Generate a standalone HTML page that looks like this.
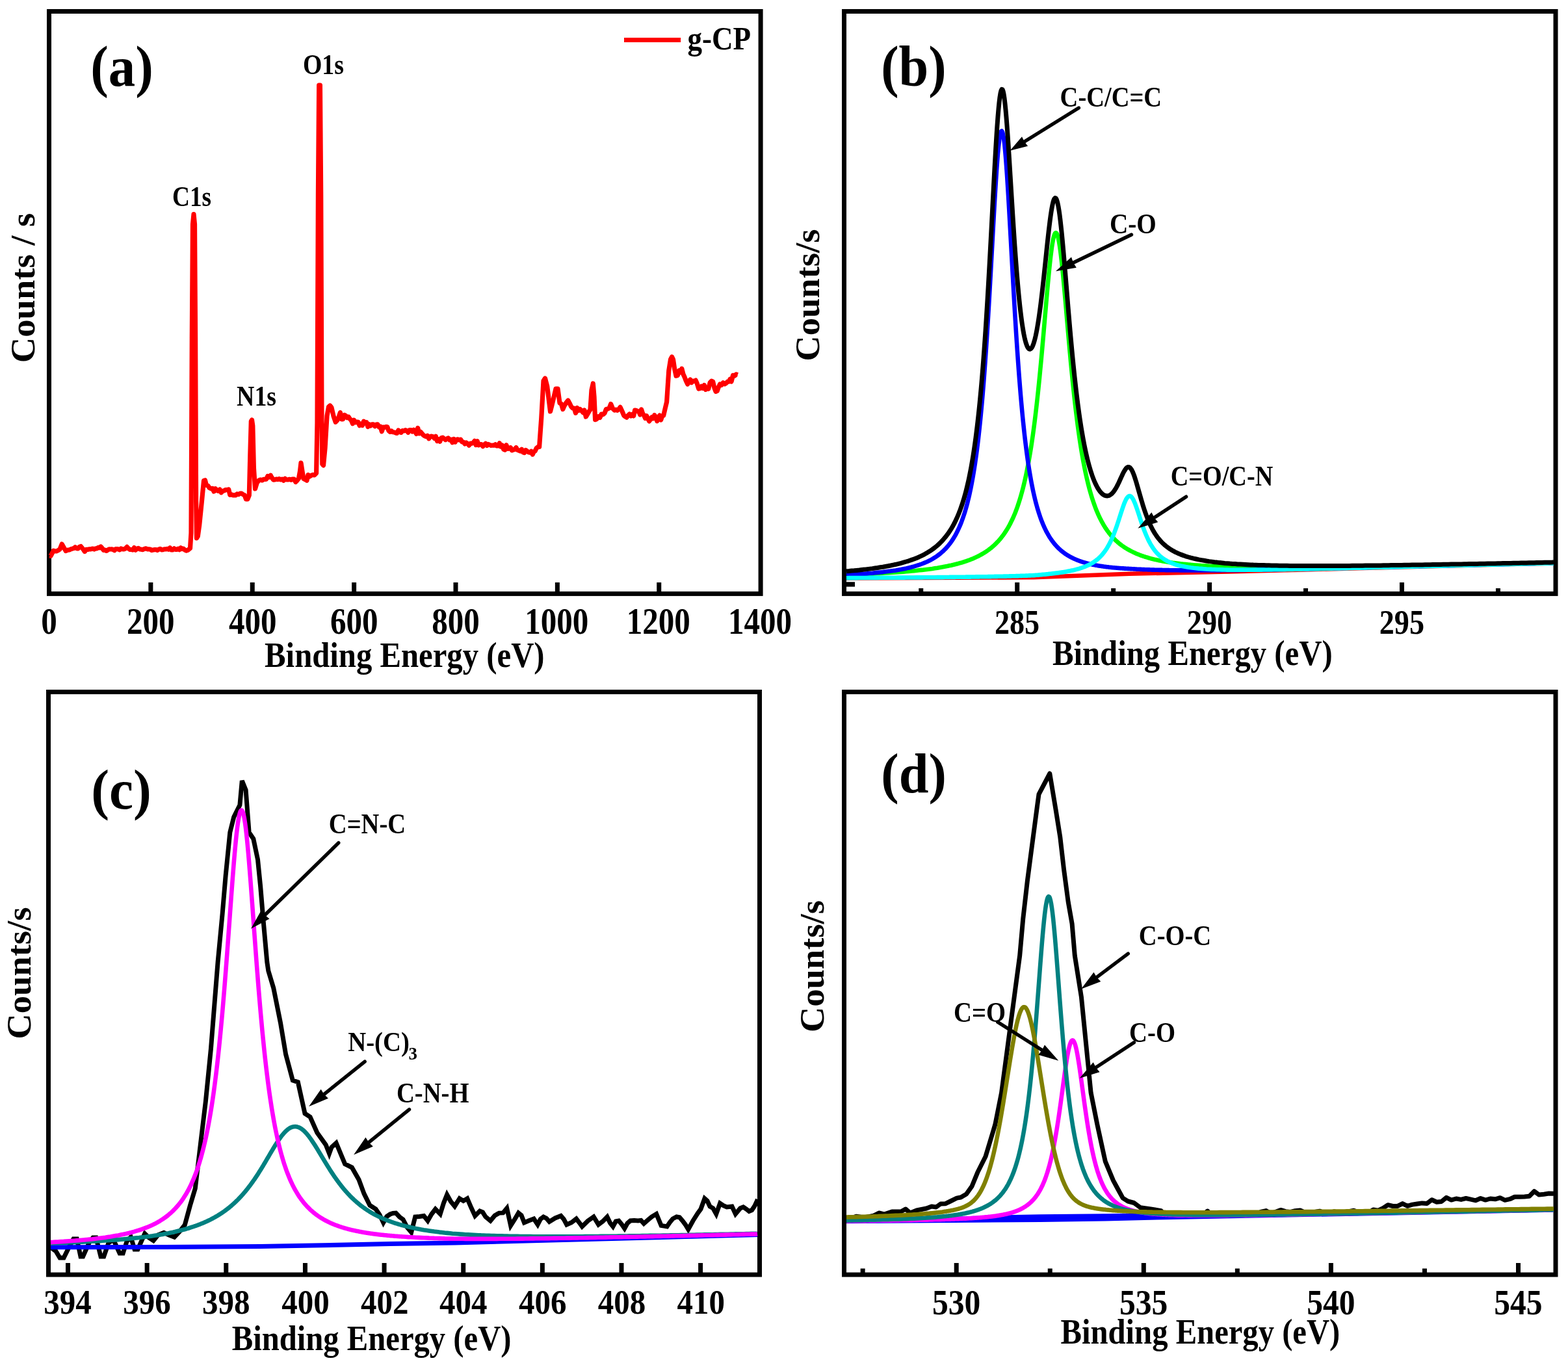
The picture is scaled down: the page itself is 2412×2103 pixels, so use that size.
<!DOCTYPE html>
<html><head><meta charset="utf-8"><title>XPS spectra</title>
<style>
html,body{margin:0;padding:0;background:#fff;}
body{width:2412px;height:2103px;overflow:hidden;}
svg{display:block;}
text{font-family:"Liberation Serif","Times New Roman",serif;font-weight:bold;font-kerning:none;font-variant-ligatures:none;fill:#000;}
</style></head><body>
<svg width="2412" height="2103" viewBox="0 0 2412 2103">
<rect width="2412" height="2103" fill="#fff"/>
<rect x="75.50" y="17.50" width="1094.60" height="895.90" fill="none" stroke="#000" stroke-width="7.0"/>
<rect x="228.37" y="896.00" width="7.00" height="16.00" fill="#000"/>
<rect x="384.74" y="896.00" width="7.00" height="16.00" fill="#000"/>
<rect x="541.11" y="896.00" width="7.00" height="16.00" fill="#000"/>
<rect x="697.49" y="896.00" width="7.00" height="16.00" fill="#000"/>
<rect x="853.86" y="896.00" width="7.00" height="16.00" fill="#000"/>
<rect x="1010.23" y="896.00" width="7.00" height="16.00" fill="#000"/>
<path d="M76.0 855.0 L78.0 855.3 L80.0 851.5 L82.2 847.2 L84.5 848.0 L86.8 847.9 L89.0 847.0 L92.0 845.0 L95.2 837.0 L98.0 842.0 L101.3 847.6 L104.2 846.2 L107.0 845.9 L109.2 844.7 L111.4 844.1 L113.6 843.6 L115.7 841.7 L117.9 843.6 L120.0 844.0 L122.2 841.4 L124.3 840.5 L128.0 845.0 L130.3 848.5 L132.7 845.3 L134.8 845.5 L136.8 844.8 L138.8 844.9 L140.9 844.4 L142.9 844.0 L145.0 845.0 L147.0 843.8 L149.0 843.9 L151.0 842.4 L153.0 842.8 L155.0 841.0 L157.2 843.5 L159.5 846.4 L161.6 846.1 L163.7 847.4 L165.8 846.1 L167.9 844.8 L170.0 845.0 L172.0 844.8 L174.0 845.5 L176.0 846.8 L178.0 844.6 L180.0 844.6 L182.0 844.8 L184.0 845.9 L186.0 844.0 L188.0 844.7 L190.0 845.0 L192.7 844.1 L195.3 841.4 L197.7 844.0 L200.0 845.5 L202.1 845.5 L204.3 846.0 L206.4 842.5 L208.6 846.2 L210.7 844.2 L212.9 843.4 L215.0 845.0 L217.3 845.2 L219.7 845.6 L222.0 844.4 L224.4 843.8 L226.7 844.8 L228.9 844.9 L231.1 845.0 L233.3 846.6 L235.6 846.0 L237.8 845.6 L240.0 845.5 L242.1 846.5 L244.3 845.2 L246.4 844.4 L248.6 845.8 L250.7 845.7 L252.9 844.9 L255.0 845.0 L257.1 844.3 L259.3 845.4 L261.4 842.7 L263.6 846.0 L265.7 845.8 L267.9 843.8 L270.0 845.5 L272.0 845.4 L274.0 844.2 L276.0 845.7 L278.0 842.7 L280.0 844.6 L282.2 844.1 L284.4 846.2 L286.7 847.1 L288.9 846.4 L292.5 843.5 L294.0 820.0 L295.3 520.0 L296.5 345.0 L298.0 329.5 L299.5 345.0 L300.6 520.0 L301.6 770.0 L302.5 828.0 L304.3 825.0 L306.8 807.0 L310.4 771.4 L313.5 739.5 L315.5 738.8 L317.5 746.4 L319.9 747.3 L322.2 750.6 L324.6 751.8 L326.9 751.4 L329.1 756.1 L331.4 751.7 L333.6 754.5 L335.8 755.4 L338.1 753.1 L340.3 757.7 L342.5 755.4 L344.9 754.8 L347.2 753.5 L349.6 753.6 L351.7 752.9 L353.8 761.3 L355.9 760.7 L358.1 761.8 L360.4 761.6 L362.6 762.0 L364.8 759.8 L367.1 760.6 L369.3 759.1 L371.6 759.1 L373.8 760.7 L376.2 761.7 L378.5 767.9 L380.9 767.9 L383.3 762.0 L384.8 700.0 L386.3 648.0 L387.5 646.0 L388.8 655.0 L390.4 720.0 L392.5 752.0 L395.2 742.9 L397.9 739.3 L400.5 738.0 L403.2 739.0 L405.4 737.4 L407.5 737.4 L409.7 737.1 L411.8 732.5 L414.0 734.0 L416.2 731.2 L418.4 735.2 L420.6 738.2 L422.8 737.9 L425.0 737.0 L427.2 737.6 L429.5 736.7 L431.7 738.0 L434.0 737.1 L436.2 739.3 L438.5 736.3 L440.7 738.0 L443.0 738.0 L445.4 737.3 L447.7 738.3 L450.0 737.0 L452.4 737.2 L454.8 741.5 L457.1 739.2 L459.5 736.0 L461.5 725.0 L463.0 712.0 L465.0 725.0 L467.0 736.6 L470.0 738.0 L472.0 739.3 L474.0 730.6 L476.0 733.0 L478.5 731.6 L481.1 730.4 L483.6 731.0 L486.6 728.0 L488.0 650.0 L489.4 300.0 L490.7 131.0 L492.4 131.0 L493.7 300.0 L495.0 650.0 L495.8 714.0 L497.5 716.0 L500.0 690.0 L503.0 640.0 L505.5 626.0 L507.7 624.0 L510.0 627.0 L513.0 640.0 L516.2 649.4 L518.8 646.6 L521.3 640.9 L523.4 634.7 L525.5 644.8 L527.6 644.8 L529.8 638.4 L531.9 639.6 L534.0 642.6 L536.1 641.2 L538.2 644.4 L540.4 646.9 L542.5 651.7 L544.6 646.3 L546.8 649.8 L548.9 649.0 L551.0 649.4 L553.1 654.7 L555.2 652.3 L557.4 654.4 L559.5 648.1 L561.6 651.0 L563.8 649.7 L565.9 656.5 L568.0 652.8 L570.1 655.0 L572.3 652.8 L574.5 652.8 L576.6 655.8 L578.8 653.0 L580.9 652.8 L583.1 657.1 L585.2 656.2 L587.3 663.7 L589.5 657.2 L591.6 657.3 L593.7 656.5 L595.8 656.9 L598.0 662.7 L600.1 664.4 L602.2 663.0 L604.3 664.7 L606.5 665.0 L608.6 665.9 L610.7 666.4 L612.8 662.0 L615.0 664.4 L617.1 665.4 L619.2 662.6 L621.4 663.0 L623.5 661.7 L625.6 662.5 L627.8 665.3 L629.9 661.5 L632.0 661.7 L634.2 663.9 L636.3 661.3 L638.4 663.9 L640.5 667.5 L642.7 658.4 L644.8 666.9 L646.9 664.3 L649.0 666.8 L651.2 669.4 L653.3 670.9 L655.4 671.6 L657.5 670.2 L659.7 674.8 L661.8 671.5 L663.9 671.1 L666.1 671.7 L668.2 674.4 L670.3 671.3 L672.5 678.5 L674.6 675.8 L676.7 679.1 L678.9 673.8 L681.0 673.2 L683.1 674.8 L685.3 676.6 L687.4 675.0 L689.5 673.9 L691.6 676.8 L693.8 676.2 L695.9 680.7 L698.0 675.4 L700.1 680.1 L702.3 676.3 L704.4 675.9 L706.5 677.0 L708.6 676.2 L710.8 679.9 L712.9 680.0 L715.0 682.9 L717.2 681.0 L719.3 682.4 L721.4 685.2 L723.6 682.1 L725.7 682.2 L727.8 681.4 L730.0 678.4 L732.1 684.5 L734.2 678.6 L736.4 684.8 L738.5 683.5 L740.6 683.7 L742.8 686.7 L744.9 684.0 L747.0 682.3 L749.1 685.4 L751.2 683.4 L753.4 684.5 L755.5 685.3 L757.6 685.0 L759.8 685.1 L761.9 683.8 L764.0 686.0 L766.1 686.0 L768.3 681.8 L770.4 687.1 L772.5 685.1 L774.7 691.2 L776.8 692.1 L778.9 684.8 L781.1 690.3 L783.2 690.2 L785.3 688.5 L787.5 692.8 L789.6 692.0 L791.7 691.3 L793.9 688.5 L796.0 692.4 L798.1 693.0 L800.2 694.0 L802.4 691.2 L804.5 695.9 L806.6 696.5 L808.7 692.5 L810.9 694.0 L813.0 695.7 L815.1 696.2 L817.1 694.3 L819.2 699.1 L821.2 694.9 L823.2 693.8 L825.3 689.3 L827.5 687.6 L829.6 687.4 L832.8 642.4 L836.0 586.0 L838.5 582.0 L841.7 594.2 L844.1 613.6 L846.5 633.0 L848.8 624.0 L851.0 615.0 L853.0 606.5 L855.0 598.0 L858.0 598.0 L861.0 620.0 L863.4 621.2 L865.8 629.6 L868.2 624.0 L871.0 619.5 L873.8 616.0 L876.2 620.4 L878.6 625.5 L881.0 628.0 L883.3 628.2 L885.5 635.4 L887.8 627.4 L890.0 631.5 L892.3 629.6 L894.5 631.7 L896.8 634.6 L899.0 631.0 L901.3 641.1 L903.5 637.6 L905.8 633.4 L908.0 630.0 L910.0 600.0 L912.3 590.0 L914.0 610.0 L915.6 645.6 L918.0 644.6 L920.4 640.8 L922.8 642.4 L925.2 637.1 L927.6 637.6 L930.0 635.7 L932.4 629.6 L934.8 629.1 L937.2 627.8 L939.6 621.5 L942.5 628.5 L945.3 631.2 L947.5 630.1 L949.7 631.3 L951.9 629.4 L954.1 626.4 L956.9 632.5 L959.7 639.2 L961.9 641.0 L964.0 642.3 L966.2 639.1 L968.3 637.1 L970.5 639.9 L972.6 637.6 L974.6 639.9 L976.6 631.2 L978.6 631.4 L980.6 632.5 L982.6 633.2 L984.6 637.9 L986.6 629.9 L988.6 636.0 L990.6 639.0 L992.6 643.4 L994.6 639.7 L996.6 644.0 L998.6 648.0 L1000.6 645.1 L1002.6 641.9 L1004.7 643.8 L1006.7 638.7 L1008.7 641.2 L1010.7 647.8 L1012.7 642.4 L1014.7 639.1 L1016.7 646.0 L1018.7 639.8 L1020.7 639.2 L1023.1 628.8 L1025.6 618.3 L1028.8 570.0 L1031.5 553.0 L1033.6 549.0 L1035.5 553.0 L1037.6 567.0 L1040.0 578.2 L1042.4 577.5 L1044.8 570.0 L1046.8 572.6 L1048.8 567.2 L1050.9 575.4 L1052.9 579.8 L1055.3 586.0 L1057.7 591.0 L1059.7 586.0 L1061.7 584.1 L1063.7 588.6 L1065.7 586.2 L1068.0 586.3 L1070.2 585.1 L1072.5 590.7 L1074.7 598.0 L1077.0 597.4 L1079.1 594.3 L1081.3 597.2 L1083.4 592.6 L1085.5 599.4 L1087.7 596.4 L1089.8 598.2 L1092.2 588.5 L1094.6 586.2 L1096.7 587.3 L1098.9 596.8 L1101.0 602.3 L1103.2 601.4 L1105.3 595.6 L1107.5 591.0 L1109.9 592.4 L1112.3 588.7 L1114.7 590.8 L1117.1 589.4 L1119.1 587.2 L1121.1 587.1 L1123.1 583.3 L1125.1 587.0 L1127.5 577.3 L1130.0 578.2 L1132.4 575.8 L1134.8 576.6" fill="none" stroke="#ff0000" stroke-width="7.2" stroke-linejoin="round" stroke-linecap="butt"/>
<rect x="960" y="58" width="87.1" height="7" fill="#ff0000"/>
<text transform="translate(1057.51 76.20) scale(0.8841 1)" font-size="51.00">g-CP</text>
<text transform="translate(139.26 132.35) scale(0.9353 1)" font-size="88.56">(a)</text>
<text transform="translate(465.95 114.46) scale(0.8474 1)" font-size="44.65">O1s</text>
<text transform="translate(264.98 316.56) scale(0.8303 1)" font-size="44.95">C1s</text>
<text transform="translate(364.08 623.67) scale(0.8692 1)" font-size="43.59">N1s</text>
<text transform="translate(53.26 558.16) rotate(-90) scale(1.0469 1)" font-size="52.13">Counts / s</text>
<text transform="translate(63.23 975.35) scale(0.8759 1)" font-size="56.02">0</text>
<text transform="translate(194.98 975.35) scale(0.8759 1)" font-size="56.02">200</text>
<text transform="translate(352.04 975.35) scale(0.8759 1)" font-size="56.02">400</text>
<text transform="translate(507.91 975.35) scale(0.8759 1)" font-size="56.02">600</text>
<text transform="translate(664.31 975.35) scale(0.8759 1)" font-size="56.02">800</text>
<text transform="translate(807.26 975.35) scale(0.8759 1)" font-size="56.02">1000</text>
<text transform="translate(963.63 975.35) scale(0.8759 1)" font-size="56.02">1200</text>
<text transform="translate(1120.00 975.35) scale(0.8759 1)" font-size="56.02">1400</text>
<text transform="translate(407.09 1025.90) scale(0.8890 1)" font-size="54.83">Binding Energy (eV)</text>
<rect x="1298.50" y="17.50" width="1094.50" height="895.90" fill="none" stroke="#000" stroke-width="7.0"/>
<path d="M1302.0 889.5 L1590.0 888.2 L1737.0 882.8 L1890.0 879.5 L2190.0 871.5 L2390.0 866.5" fill="none" stroke="#ff0000" stroke-width="6.5" stroke-linejoin="round" stroke-linecap="butt"/>
<path d="M1302.0 884.3 L1306.0 884.1 L1310.0 884.0 L1314.0 883.8 L1318.0 883.7 L1322.0 883.5 L1326.0 883.4 L1330.0 883.2 L1334.0 883.0 L1338.0 882.8 L1342.0 882.6 L1346.0 882.4 L1350.0 882.2 L1354.0 882.0 L1358.0 881.8 L1362.0 881.5 L1366.0 881.3 L1370.0 881.0 L1374.0 880.8 L1378.0 880.5 L1382.0 880.2 L1386.0 879.9 L1390.0 879.6 L1394.0 879.3 L1398.0 878.9 L1402.0 878.5 L1406.0 878.2 L1410.0 877.8 L1414.0 877.3 L1418.0 876.9 L1422.0 876.4 L1426.0 875.9 L1430.0 875.4 L1434.0 874.9 L1438.0 874.3 L1442.0 873.7 L1446.0 873.0 L1450.0 872.3 L1454.0 871.5 L1458.0 870.8 L1460.0 870.3 L1461.0 870.1 L1462.0 869.9 L1463.0 869.7 L1464.0 869.5 L1465.0 869.2 L1466.0 869.0 L1467.0 868.8 L1468.0 868.5 L1469.0 868.3 L1470.0 868.0 L1471.0 867.8 L1472.0 867.5 L1473.0 867.2 L1474.0 867.0 L1475.0 866.7 L1476.0 866.4 L1477.0 866.1 L1478.0 865.9 L1479.0 865.6 L1480.0 865.3 L1481.0 865.0 L1482.0 864.6 L1483.0 864.3 L1484.0 864.0 L1485.0 863.7 L1486.0 863.3 L1487.0 863.0 L1488.0 862.7 L1489.0 862.3 L1490.0 861.9 L1491.0 861.6 L1492.0 861.2 L1493.0 860.8 L1494.0 860.4 L1495.0 860.0 L1496.0 859.6 L1497.0 859.2 L1498.0 858.7 L1499.0 858.3 L1500.0 857.9 L1501.0 857.4 L1502.0 856.9 L1503.0 856.4 L1504.0 856.0 L1505.0 855.5 L1506.0 855.0 L1507.0 854.4 L1508.0 853.9 L1509.0 853.3 L1510.0 852.8 L1511.0 852.2 L1512.0 851.6 L1513.0 851.0 L1514.0 850.4 L1515.0 849.8 L1516.0 849.1 L1517.0 848.5 L1518.0 847.8 L1519.0 847.1 L1520.0 846.4 L1521.0 845.7 L1522.0 844.9 L1523.0 844.1 L1524.0 843.4 L1525.0 842.6 L1526.0 841.7 L1527.0 840.9 L1528.0 840.0 L1529.0 839.1 L1530.0 838.2 L1531.0 837.2 L1532.0 836.3 L1533.0 835.2 L1534.0 834.2 L1535.0 833.2 L1536.0 832.1 L1537.0 830.9 L1538.0 829.8 L1539.0 828.6 L1540.0 827.4 L1541.0 826.1 L1542.0 824.8 L1543.0 823.5 L1544.0 822.1 L1545.0 820.7 L1546.0 819.2 L1547.0 817.7 L1548.0 816.1 L1549.0 814.5 L1550.0 812.8 L1551.0 811.1 L1552.0 809.3 L1553.0 807.5 L1554.0 805.6 L1555.0 803.6 L1556.0 801.6 L1557.0 799.5 L1558.0 797.3 L1559.0 795.1 L1560.0 792.8 L1561.0 790.4 L1562.0 787.9 L1563.0 785.3 L1564.0 782.6 L1565.0 779.8 L1566.0 776.9 L1567.0 773.9 L1568.0 770.8 L1569.0 767.6 L1570.0 764.2 L1571.0 760.7 L1572.0 757.1 L1573.0 753.4 L1574.0 749.5 L1575.0 745.4 L1576.0 741.2 L1577.0 736.8 L1578.0 732.2 L1579.0 727.5 L1580.0 722.5 L1581.0 717.4 L1582.0 712.0 L1583.0 706.5 L1584.0 700.7 L1585.0 694.7 L1586.0 688.4 L1587.0 681.9 L1588.0 675.1 L1589.0 668.1 L1590.0 660.7 L1591.0 653.1 L1592.0 645.2 L1593.0 637.0 L1594.0 628.4 L1595.0 619.6 L1596.0 610.5 L1597.0 601.1 L1598.0 591.4 L1599.0 581.3 L1600.0 571.0 L1601.0 560.5 L1602.0 549.7 L1603.0 538.6 L1604.0 527.4 L1605.0 516.0 L1606.0 504.4 L1607.0 492.8 L1608.0 481.2 L1609.0 469.6 L1610.0 458.1 L1611.0 446.8 L1612.0 435.8 L1613.0 425.1 L1614.0 414.9 L1615.0 405.3 L1616.0 396.2 L1617.0 388.0 L1618.0 380.6 L1619.0 374.1 L1620.0 368.6 L1621.0 364.2 L1622.0 361.0 L1623.0 358.9 L1624.0 358.1 L1625.0 358.5 L1626.0 360.1 L1627.0 362.9 L1628.0 366.9 L1629.0 372.0 L1630.0 378.1 L1631.0 385.2 L1632.0 393.1 L1633.0 401.8 L1634.0 411.2 L1635.0 421.2 L1636.0 431.7 L1637.0 442.5 L1638.0 453.7 L1639.0 465.0 L1640.0 476.5 L1641.0 488.1 L1642.0 499.6 L1643.0 511.1 L1644.0 522.5 L1645.0 533.7 L1646.0 544.8 L1647.0 555.6 L1648.0 566.1 L1649.0 576.5 L1650.0 586.5 L1651.0 596.2 L1652.0 605.7 L1653.0 614.8 L1654.0 623.6 L1655.0 632.2 L1656.0 640.4 L1657.0 648.3 L1658.0 656.0 L1659.0 663.3 L1660.0 670.4 L1661.0 677.2 L1662.0 683.8 L1663.0 690.1 L1664.0 696.2 L1665.0 702.0 L1666.0 707.6 L1667.0 712.9 L1668.0 718.1 L1669.0 723.1 L1670.0 727.8 L1671.0 732.4 L1672.0 736.8 L1673.0 741.0 L1674.0 745.1 L1675.0 749.0 L1676.0 752.8 L1677.0 756.4 L1678.0 759.9 L1679.0 763.2 L1680.0 766.4 L1681.0 769.5 L1682.0 772.5 L1683.0 775.4 L1684.0 778.2 L1685.0 780.9 L1686.0 783.4 L1687.0 785.9 L1688.0 788.3 L1689.0 790.6 L1690.0 792.9 L1691.0 795.0 L1692.0 797.1 L1693.0 799.1 L1694.0 801.0 L1695.0 802.9 L1696.0 804.7 L1697.0 806.5 L1698.0 808.2 L1699.0 809.8 L1700.0 811.4 L1701.0 813.0 L1702.0 814.4 L1703.0 815.9 L1704.0 817.3 L1705.0 818.6 L1706.0 819.9 L1707.0 821.2 L1708.0 822.4 L1709.0 823.6 L1710.0 824.8 L1711.0 825.9 L1712.0 827.0 L1713.0 828.1 L1714.0 829.1 L1715.0 830.1 L1716.0 831.1 L1717.0 832.0 L1718.0 832.9 L1719.0 833.8 L1720.0 834.7 L1721.0 835.5 L1722.0 836.3 L1723.0 837.1 L1724.0 837.9 L1725.0 838.7 L1726.0 839.4 L1727.0 840.1 L1728.0 840.8 L1729.0 841.5 L1730.0 842.1 L1731.0 842.8 L1732.0 843.4 L1733.0 844.0 L1734.0 844.6 L1735.0 845.2 L1736.0 845.7 L1737.0 846.3 L1738.0 846.8 L1739.0 847.4 L1740.0 847.9 L1741.0 848.4 L1742.0 848.9 L1743.0 849.4 L1744.0 849.9 L1745.0 850.3 L1746.0 850.8 L1747.0 851.2 L1748.0 851.7 L1749.0 852.1 L1750.0 852.5 L1751.0 852.9 L1752.0 853.3 L1753.0 853.7 L1754.0 854.1 L1755.0 854.5 L1756.0 854.8 L1757.0 855.2 L1758.0 855.5 L1759.0 855.9 L1760.0 856.2 L1761.0 856.5 L1762.0 856.8 L1763.0 857.1 L1764.0 857.4 L1765.0 857.7 L1766.0 858.0 L1767.0 858.3 L1768.0 858.6 L1769.0 858.9 L1770.0 859.2 L1771.0 859.4 L1772.0 859.7 L1773.0 859.9 L1774.0 860.2 L1775.0 860.4 L1776.0 860.7 L1777.0 860.9 L1778.0 861.1 L1779.0 861.3 L1780.0 861.6 L1781.0 861.8 L1782.0 862.0 L1783.0 862.2 L1784.0 862.4 L1785.0 862.6 L1786.0 862.8 L1787.0 863.0 L1788.0 863.2 L1789.0 863.4 L1790.0 863.6 L1791.0 863.7 L1792.0 863.9 L1793.0 864.1 L1794.0 864.3 L1795.0 864.4 L1796.0 864.6 L1797.0 864.7 L1798.0 864.9 L1799.0 865.0 L1800.0 865.2 L1804.0 865.8 L1808.0 866.3 L1812.0 866.8 L1816.0 867.3 L1820.0 867.7 L1824.0 868.1 L1828.0 868.5 L1832.0 868.9 L1836.0 869.2 L1840.0 869.5 L1844.0 869.8 L1848.0 870.1 L1852.0 870.3 L1856.0 870.5 L1860.0 870.8 L1864.0 871.0 L1868.0 871.2 L1872.0 871.3 L1876.0 871.5 L1880.0 871.7 L1884.0 871.8 L1888.0 871.9 L1892.0 872.1 L1896.0 872.2 L1900.0 872.2 L1904.0 872.3 L1908.0 872.4 L1912.0 872.5 L1916.0 872.5 L1920.0 872.6 L1924.0 872.6 L1928.0 872.7 L1932.0 872.7 L1936.0 872.7 L1940.0 872.7 L1944.0 872.8 L1948.0 872.8 L1952.0 872.8 L1956.0 872.8 L1960.0 872.8 L1964.0 872.8 L1968.0 872.8 L1972.0 872.8 L1976.0 872.8 L1980.0 872.8 L1984.0 872.8 L1988.0 872.7 L1992.0 872.7 L1996.0 872.7 L2000.0 872.7 L2004.0 872.6 L2008.0 872.6 L2012.0 872.6 L2016.0 872.5 L2020.0 872.5 L2024.0 872.5 L2028.0 872.4 L2032.0 872.4 L2036.0 872.3 L2040.0 872.3 L2044.0 872.2 L2048.0 872.2 L2052.0 872.1 L2056.0 872.1 L2060.0 872.0 L2064.0 872.0 L2068.0 871.9 L2072.0 871.8 L2076.0 871.8 L2080.0 871.7 L2084.0 871.7 L2088.0 871.6 L2092.0 871.5 L2096.0 871.5 L2100.0 871.4 L2104.0 871.3 L2108.0 871.3 L2112.0 871.2 L2116.0 871.1 L2120.0 871.1 L2124.0 871.0 L2128.0 870.9 L2132.0 870.8 L2136.0 870.8 L2140.0 870.7 L2144.0 870.6 L2148.0 870.5 L2152.0 870.5 L2156.0 870.4 L2160.0 870.3 L2164.0 870.2 L2168.0 870.2 L2172.0 870.1 L2176.0 870.0 L2180.0 869.9 L2184.0 869.8 L2188.0 869.7 L2192.0 869.7 L2196.0 869.6 L2200.0 869.5 L2204.0 869.4 L2208.0 869.4 L2212.0 869.3 L2216.0 869.2 L2220.0 869.1 L2224.0 869.0 L2228.0 869.0 L2232.0 868.9 L2236.0 868.8 L2240.0 868.7 L2244.0 868.6 L2248.0 868.6 L2252.0 868.5 L2256.0 868.4 L2260.0 868.3 L2264.0 868.2 L2268.0 868.1 L2272.0 868.1 L2276.0 868.0 L2280.0 867.9 L2284.0 867.8 L2288.0 867.7 L2292.0 867.6 L2296.0 867.6 L2300.0 867.5 L2304.0 867.4 L2308.0 867.3 L2312.0 867.2 L2316.0 867.1 L2320.0 867.0 L2324.0 867.0 L2328.0 866.9 L2332.0 866.8 L2336.0 866.7 L2340.0 866.6 L2344.0 866.5 L2348.0 866.4 L2352.0 866.3 L2356.0 866.2 L2360.0 866.2 L2364.0 866.1 L2368.0 866.0 L2372.0 865.9 L2376.0 865.8 L2380.0 865.7 L2384.0 865.6 L2388.0 865.5 L2390.0 865.5" fill="none" stroke="#00ff00" stroke-width="6.6" stroke-linejoin="round" stroke-linecap="butt"/>
<path d="M1302.0 884.4 L1306.0 884.2 L1310.0 884.0 L1314.0 883.7 L1318.0 883.5 L1322.0 883.2 L1326.0 883.0 L1330.0 882.7 L1334.0 882.4 L1338.0 882.0 L1342.0 881.7 L1346.0 881.3 L1350.0 880.9 L1354.0 880.5 L1358.0 880.1 L1362.0 879.6 L1366.0 879.1 L1370.0 878.6 L1374.0 878.0 L1378.0 877.4 L1382.0 876.7 L1386.0 876.0 L1390.0 875.2 L1394.0 874.4 L1398.0 873.5 L1402.0 872.5 L1406.0 871.4 L1410.0 870.2 L1414.0 868.9 L1418.0 867.5 L1422.0 865.9 L1426.0 864.2 L1430.0 862.3 L1434.0 860.1 L1438.0 857.7 L1442.0 855.0 L1446.0 852.0 L1450.0 848.6 L1454.0 844.7 L1458.0 840.3 L1460.0 837.8 L1461.0 836.5 L1462.0 835.2 L1463.0 833.8 L1464.0 832.4 L1465.0 830.9 L1466.0 829.3 L1467.0 827.7 L1468.0 826.1 L1469.0 824.4 L1470.0 822.6 L1471.0 820.7 L1472.0 818.8 L1473.0 816.8 L1474.0 814.7 L1475.0 812.5 L1476.0 810.2 L1477.0 807.9 L1478.0 805.4 L1479.0 802.9 L1480.0 800.2 L1481.0 797.4 L1482.0 794.5 L1483.0 791.5 L1484.0 788.4 L1485.0 785.1 L1486.0 781.6 L1487.0 778.0 L1488.0 774.3 L1489.0 770.3 L1490.0 766.2 L1491.0 761.9 L1492.0 757.4 L1493.0 752.6 L1494.0 747.7 L1495.0 742.5 L1496.0 737.0 L1497.0 731.3 L1498.0 725.3 L1499.0 719.0 L1500.0 712.4 L1501.0 705.4 L1502.0 698.2 L1503.0 690.5 L1504.0 682.5 L1505.0 674.1 L1506.0 665.2 L1507.0 655.9 L1508.0 646.2 L1509.0 635.9 L1510.0 625.2 L1511.0 614.0 L1512.0 602.2 L1513.0 589.9 L1514.0 577.0 L1515.0 563.6 L1516.0 549.6 L1517.0 535.0 L1518.0 519.9 L1519.0 504.2 L1520.0 488.0 L1521.0 471.3 L1522.0 454.1 L1523.0 436.5 L1524.0 418.7 L1525.0 400.5 L1526.0 382.3 L1527.0 364.0 L1528.0 345.8 L1529.0 327.9 L1530.0 310.5 L1531.0 293.7 L1532.0 277.7 L1533.0 262.7 L1534.0 248.9 L1535.0 236.5 L1536.0 225.8 L1537.0 216.8 L1538.0 209.8 L1539.0 204.8 L1540.0 202.0 L1541.0 201.4 L1542.0 203.0 L1543.0 206.7 L1544.0 212.6 L1545.0 220.5 L1546.0 230.2 L1547.0 241.7 L1548.0 254.7 L1549.0 269.0 L1550.0 284.5 L1551.0 300.9 L1552.0 318.0 L1553.0 335.7 L1554.0 353.7 L1555.0 371.9 L1556.0 390.2 L1557.0 408.4 L1558.0 426.4 L1559.0 444.2 L1560.0 461.5 L1561.0 478.5 L1562.0 495.0 L1563.0 511.0 L1564.0 526.4 L1565.0 541.3 L1566.0 555.6 L1567.0 569.3 L1568.0 582.5 L1569.0 595.1 L1570.0 607.2 L1571.0 618.7 L1572.0 629.7 L1573.0 640.2 L1574.0 650.2 L1575.0 659.7 L1576.0 668.8 L1577.0 677.5 L1578.0 685.7 L1579.0 693.6 L1580.0 701.1 L1581.0 708.2 L1582.0 715.0 L1583.0 721.4 L1584.0 727.6 L1585.0 733.4 L1586.0 739.0 L1587.0 744.4 L1588.0 749.4 L1589.0 754.3 L1590.0 758.9 L1591.0 763.3 L1592.0 767.5 L1593.0 771.5 L1594.0 775.3 L1595.0 779.0 L1596.0 782.5 L1597.0 785.8 L1598.0 789.0 L1599.0 792.1 L1600.0 795.0 L1601.0 797.8 L1602.0 800.5 L1603.0 803.0 L1604.0 805.5 L1605.0 807.9 L1606.0 810.1 L1607.0 812.3 L1608.0 814.4 L1609.0 816.4 L1610.0 818.4 L1611.0 820.2 L1612.0 822.0 L1613.0 823.7 L1614.0 825.4 L1615.0 827.0 L1616.0 828.5 L1617.0 830.0 L1618.0 831.4 L1619.0 832.8 L1620.0 834.1 L1621.0 835.4 L1622.0 836.6 L1623.0 837.8 L1624.0 838.9 L1625.0 840.0 L1626.0 841.1 L1627.0 842.1 L1628.0 843.1 L1629.0 844.1 L1630.0 845.0 L1631.0 845.9 L1632.0 846.8 L1633.0 847.6 L1634.0 848.5 L1635.0 849.2 L1636.0 850.0 L1637.0 850.7 L1638.0 851.5 L1639.0 852.2 L1640.0 852.8 L1641.0 853.5 L1642.0 854.1 L1643.0 854.7 L1644.0 855.3 L1645.0 855.9 L1646.0 856.5 L1647.0 857.0 L1648.0 857.5 L1649.0 858.0 L1650.0 858.5 L1651.0 859.0 L1652.0 859.5 L1653.0 859.9 L1654.0 860.4 L1655.0 860.8 L1656.0 861.2 L1657.0 861.6 L1658.0 862.0 L1659.0 862.4 L1660.0 862.8 L1661.0 863.1 L1662.0 863.5 L1663.0 863.8 L1664.0 864.2 L1665.0 864.5 L1666.0 864.8 L1667.0 865.1 L1668.0 865.4 L1669.0 865.7 L1670.0 866.0 L1671.0 866.3 L1672.0 866.5 L1673.0 866.8 L1674.0 867.1 L1675.0 867.3 L1676.0 867.6 L1677.0 867.8 L1678.0 868.0 L1679.0 868.2 L1680.0 868.5 L1681.0 868.7 L1682.0 868.9 L1683.0 869.1 L1684.0 869.3 L1685.0 869.5 L1686.0 869.7 L1687.0 869.8 L1688.0 870.0 L1689.0 870.2 L1690.0 870.4 L1691.0 870.5 L1692.0 870.7 L1693.0 870.8 L1694.0 871.0 L1695.0 871.1 L1696.0 871.3 L1697.0 871.4 L1698.0 871.6 L1699.0 871.7 L1700.0 871.8 L1701.0 872.0 L1702.0 872.1 L1703.0 872.2 L1704.0 872.3 L1705.0 872.4 L1706.0 872.6 L1707.0 872.7 L1708.0 872.8 L1709.0 872.9 L1710.0 873.0 L1711.0 873.1 L1712.0 873.2 L1713.0 873.3 L1714.0 873.4 L1715.0 873.5 L1716.0 873.5 L1717.0 873.6 L1718.0 873.7 L1719.0 873.8 L1720.0 873.9 L1721.0 874.0 L1722.0 874.0 L1723.0 874.1 L1724.0 874.2 L1725.0 874.2 L1726.0 874.3 L1727.0 874.4 L1728.0 874.4 L1729.0 874.5 L1730.0 874.6 L1731.0 874.6 L1732.0 874.7 L1733.0 874.7 L1734.0 874.8 L1735.0 874.9 L1736.0 874.9 L1737.0 875.0 L1738.0 875.0 L1739.0 875.1 L1740.0 875.1 L1741.0 875.2 L1742.0 875.3 L1743.0 875.3 L1744.0 875.4 L1745.0 875.4 L1746.0 875.5 L1747.0 875.5 L1748.0 875.6 L1749.0 875.7 L1750.0 875.7 L1751.0 875.7 L1752.0 875.8 L1753.0 875.8 L1754.0 875.9 L1755.0 875.9 L1756.0 876.0 L1757.0 876.0 L1758.0 876.1 L1759.0 876.1 L1760.0 876.1 L1761.0 876.2 L1762.0 876.2 L1763.0 876.3 L1764.0 876.3 L1765.0 876.3 L1766.0 876.4 L1767.0 876.4 L1768.0 876.4 L1769.0 876.5 L1770.0 876.5 L1771.0 876.5 L1772.0 876.6 L1773.0 876.6 L1774.0 876.6 L1775.0 876.6 L1776.0 876.7 L1777.0 876.7 L1778.0 876.7 L1779.0 876.8 L1780.0 876.8 L1781.0 876.8 L1782.0 876.8 L1783.0 876.9 L1784.0 876.9 L1785.0 876.9 L1786.0 876.9 L1787.0 876.9 L1788.0 877.0 L1789.0 877.0 L1790.0 877.0 L1791.0 877.0 L1792.0 877.0 L1793.0 877.1 L1794.0 877.1 L1795.0 877.1 L1796.0 877.1 L1797.0 877.1 L1798.0 877.1 L1799.0 877.2 L1800.0 877.2 L1804.0 877.2 L1808.0 877.3 L1812.0 877.3 L1816.0 877.4 L1820.0 877.4 L1824.0 877.4 L1828.0 877.4 L1832.0 877.4 L1836.0 877.5 L1840.0 877.5 L1844.0 877.5 L1848.0 877.5 L1852.0 877.5 L1856.0 877.5 L1860.0 877.4 L1864.0 877.4 L1868.0 877.4 L1872.0 877.4 L1876.0 877.4 L1880.0 877.3 L1884.0 877.3 L1888.0 877.3 L1892.0 877.3 L1896.0 877.2 L1900.0 877.1 L1904.0 877.1 L1908.0 877.0 L1912.0 877.0 L1916.0 876.9 L1920.0 876.8 L1924.0 876.8 L1928.0 876.7 L1932.0 876.7 L1936.0 876.6 L1940.0 876.5 L1944.0 876.4 L1948.0 876.4 L1952.0 876.3 L1956.0 876.2 L1960.0 876.1 L1964.0 876.1 L1968.0 876.0 L1972.0 875.9 L1976.0 875.8 L1980.0 875.8 L1984.0 875.7 L1988.0 875.6 L1992.0 875.5 L1996.0 875.4 L2000.0 875.4 L2004.0 875.3 L2008.0 875.2 L2012.0 875.1 L2016.0 875.0 L2020.0 874.9 L2024.0 874.8 L2028.0 874.8 L2032.0 874.7 L2036.0 874.6 L2040.0 874.5 L2044.0 874.4 L2048.0 874.3 L2052.0 874.2 L2056.0 874.1 L2060.0 874.0 L2064.0 873.9 L2068.0 873.9 L2072.0 873.8 L2076.0 873.7 L2080.0 873.6 L2084.0 873.5 L2088.0 873.4 L2092.0 873.3 L2096.0 873.2 L2100.0 873.1 L2104.0 873.0 L2108.0 872.9 L2112.0 872.8 L2116.0 872.7 L2120.0 872.6 L2124.0 872.5 L2128.0 872.4 L2132.0 872.4 L2136.0 872.3 L2140.0 872.2 L2144.0 872.1 L2148.0 872.0 L2152.0 871.9 L2156.0 871.8 L2160.0 871.7 L2164.0 871.6 L2168.0 871.5 L2172.0 871.4 L2176.0 871.3 L2180.0 871.2 L2184.0 871.1 L2188.0 871.0 L2192.0 870.9 L2196.0 870.8 L2200.0 870.7 L2204.0 870.6 L2208.0 870.5 L2212.0 870.4 L2216.0 870.3 L2220.0 870.2 L2224.0 870.1 L2228.0 870.1 L2232.0 870.0 L2236.0 869.9 L2240.0 869.8 L2244.0 869.7 L2248.0 869.6 L2252.0 869.5 L2256.0 869.4 L2260.0 869.3 L2264.0 869.2 L2268.0 869.1 L2272.0 869.0 L2276.0 868.9 L2280.0 868.8 L2284.0 868.7 L2288.0 868.6 L2292.0 868.5 L2296.0 868.4 L2300.0 868.3 L2304.0 868.3 L2308.0 868.2 L2312.0 868.1 L2316.0 868.0 L2320.0 867.9 L2324.0 867.8 L2328.0 867.7 L2332.0 867.6 L2336.0 867.5 L2340.0 867.4 L2344.0 867.3 L2348.0 867.2 L2352.0 867.1 L2356.0 867.0 L2360.0 866.9 L2364.0 866.8 L2368.0 866.7 L2372.0 866.6 L2376.0 866.5 L2380.0 866.4 L2384.0 866.3 L2388.0 866.2 L2390.0 866.2" fill="none" stroke="#0000ff" stroke-width="6.6" stroke-linejoin="round" stroke-linecap="butt"/>
<path d="M1302.0 889.2 L1306.0 889.1 L1310.0 889.1 L1314.0 889.1 L1318.0 889.1 L1322.0 889.0 L1326.0 889.0 L1330.0 889.0 L1334.0 889.0 L1338.0 888.9 L1342.0 888.9 L1346.0 888.9 L1350.0 888.9 L1354.0 888.8 L1358.0 888.8 L1362.0 888.8 L1366.0 888.8 L1370.0 888.7 L1374.0 888.7 L1378.0 888.7 L1382.0 888.6 L1386.0 888.6 L1390.0 888.6 L1394.0 888.5 L1398.0 888.5 L1402.0 888.5 L1406.0 888.5 L1410.0 888.4 L1414.0 888.4 L1418.0 888.4 L1422.0 888.3 L1426.0 888.3 L1430.0 888.2 L1434.0 888.2 L1438.0 888.2 L1442.0 888.1 L1446.0 888.1 L1450.0 888.1 L1454.0 888.0 L1458.0 888.0 L1460.0 888.0 L1461.0 887.9 L1462.0 887.9 L1463.0 887.9 L1464.0 887.9 L1465.0 887.9 L1466.0 887.9 L1467.0 887.9 L1468.0 887.9 L1469.0 887.9 L1470.0 887.8 L1471.0 887.8 L1472.0 887.8 L1473.0 887.8 L1474.0 887.8 L1475.0 887.8 L1476.0 887.8 L1477.0 887.8 L1478.0 887.7 L1479.0 887.7 L1480.0 887.7 L1481.0 887.7 L1482.0 887.7 L1483.0 887.7 L1484.0 887.7 L1485.0 887.7 L1486.0 887.6 L1487.0 887.6 L1488.0 887.6 L1489.0 887.6 L1490.0 887.6 L1491.0 887.6 L1492.0 887.6 L1493.0 887.6 L1494.0 887.5 L1495.0 887.5 L1496.0 887.5 L1497.0 887.5 L1498.0 887.5 L1499.0 887.5 L1500.0 887.5 L1501.0 887.4 L1502.0 887.4 L1503.0 887.4 L1504.0 887.4 L1505.0 887.4 L1506.0 887.4 L1507.0 887.3 L1508.0 887.3 L1509.0 887.3 L1510.0 887.3 L1511.0 887.3 L1512.0 887.3 L1513.0 887.3 L1514.0 887.2 L1515.0 887.2 L1516.0 887.2 L1517.0 887.2 L1518.0 887.2 L1519.0 887.2 L1520.0 887.1 L1521.0 887.1 L1522.0 887.1 L1523.0 887.1 L1524.0 887.1 L1525.0 887.0 L1526.0 887.0 L1527.0 887.0 L1528.0 887.0 L1529.0 887.0 L1530.0 886.9 L1531.0 886.9 L1532.0 886.9 L1533.0 886.9 L1534.0 886.9 L1535.0 886.8 L1536.0 886.8 L1537.0 886.8 L1538.0 886.8 L1539.0 886.8 L1540.0 886.7 L1541.0 886.7 L1542.0 886.7 L1543.0 886.7 L1544.0 886.6 L1545.0 886.6 L1546.0 886.6 L1547.0 886.6 L1548.0 886.6 L1549.0 886.5 L1550.0 886.5 L1551.0 886.5 L1552.0 886.5 L1553.0 886.4 L1554.0 886.4 L1555.0 886.4 L1556.0 886.3 L1557.0 886.3 L1558.0 886.3 L1559.0 886.3 L1560.0 886.2 L1561.0 886.2 L1562.0 886.2 L1563.0 886.1 L1564.0 886.1 L1565.0 886.1 L1566.0 886.1 L1567.0 886.0 L1568.0 886.0 L1569.0 886.0 L1570.0 885.9 L1571.0 885.9 L1572.0 885.9 L1573.0 885.8 L1574.0 885.8 L1575.0 885.8 L1576.0 885.7 L1577.0 885.7 L1578.0 885.6 L1579.0 885.6 L1580.0 885.6 L1581.0 885.5 L1582.0 885.5 L1583.0 885.4 L1584.0 885.4 L1585.0 885.4 L1586.0 885.3 L1587.0 885.3 L1588.0 885.2 L1589.0 885.2 L1590.0 885.1 L1591.0 885.1 L1592.0 885.0 L1593.0 884.9 L1594.0 884.8 L1595.0 884.7 L1596.0 884.7 L1597.0 884.6 L1598.0 884.5 L1599.0 884.4 L1600.0 884.3 L1601.0 884.2 L1602.0 884.1 L1603.0 884.0 L1604.0 883.9 L1605.0 883.8 L1606.0 883.8 L1607.0 883.7 L1608.0 883.6 L1609.0 883.5 L1610.0 883.4 L1611.0 883.3 L1612.0 883.2 L1613.0 883.0 L1614.0 882.9 L1615.0 882.8 L1616.0 882.7 L1617.0 882.6 L1618.0 882.5 L1619.0 882.4 L1620.0 882.3 L1621.0 882.1 L1622.0 882.0 L1623.0 881.9 L1624.0 881.8 L1625.0 881.6 L1626.0 881.5 L1627.0 881.4 L1628.0 881.2 L1629.0 881.1 L1630.0 881.0 L1631.0 880.8 L1632.0 880.7 L1633.0 880.5 L1634.0 880.4 L1635.0 880.2 L1636.0 880.1 L1637.0 879.9 L1638.0 879.7 L1639.0 879.6 L1640.0 879.4 L1641.0 879.2 L1642.0 879.0 L1643.0 878.8 L1644.0 878.6 L1645.0 878.4 L1646.0 878.2 L1647.0 878.0 L1648.0 877.8 L1649.0 877.6 L1650.0 877.4 L1651.0 877.2 L1652.0 876.9 L1653.0 876.7 L1654.0 876.4 L1655.0 876.2 L1656.0 875.9 L1657.0 875.6 L1658.0 875.4 L1659.0 875.1 L1660.0 874.8 L1661.0 874.5 L1662.0 874.2 L1663.0 873.8 L1664.0 873.5 L1665.0 873.2 L1666.0 872.8 L1667.0 872.4 L1668.0 872.1 L1669.0 871.7 L1670.0 871.3 L1671.0 870.8 L1672.0 870.4 L1673.0 869.9 L1674.0 869.5 L1675.0 869.0 L1676.0 868.5 L1677.0 868.0 L1678.0 867.4 L1679.0 866.9 L1680.0 866.3 L1681.0 865.7 L1682.0 865.0 L1683.0 864.4 L1684.0 863.7 L1685.0 862.9 L1686.0 862.2 L1687.0 861.4 L1688.0 860.6 L1689.0 859.8 L1690.0 858.9 L1691.0 857.9 L1692.0 857.0 L1693.0 856.0 L1694.0 854.9 L1695.0 853.8 L1696.0 852.6 L1697.0 851.4 L1698.0 850.2 L1699.0 848.8 L1700.0 847.5 L1701.0 846.0 L1702.0 844.5 L1703.0 842.9 L1704.0 841.2 L1705.0 839.5 L1706.0 837.7 L1707.0 835.7 L1708.0 833.8 L1709.0 831.7 L1710.0 829.5 L1711.0 827.2 L1712.0 824.9 L1713.0 822.4 L1714.0 819.9 L1715.0 817.2 L1716.0 814.5 L1717.0 811.7 L1718.0 808.8 L1719.0 805.8 L1720.0 802.8 L1721.0 799.7 L1722.0 796.6 L1723.0 793.4 L1724.0 790.3 L1725.0 787.2 L1726.0 784.2 L1727.0 781.2 L1728.0 778.3 L1729.0 775.6 L1730.0 773.1 L1731.0 770.8 L1732.0 768.7 L1733.0 766.9 L1734.0 765.5 L1735.0 764.3 L1736.0 763.5 L1737.0 763.1 L1738.0 763.0 L1739.0 763.3 L1740.0 764.0 L1741.0 765.1 L1742.0 766.4 L1743.0 768.1 L1744.0 770.1 L1745.0 772.3 L1746.0 774.7 L1747.0 777.4 L1748.0 780.1 L1749.0 783.0 L1750.0 786.0 L1751.0 789.0 L1752.0 792.1 L1753.0 795.2 L1754.0 798.2 L1755.0 801.3 L1756.0 804.2 L1757.0 807.2 L1758.0 810.0 L1759.0 812.8 L1760.0 815.5 L1761.0 818.1 L1762.0 820.6 L1763.0 823.0 L1764.0 825.3 L1765.0 827.5 L1766.0 829.7 L1767.0 831.7 L1768.0 833.7 L1769.0 835.5 L1770.0 837.3 L1771.0 839.0 L1772.0 840.6 L1773.0 842.2 L1774.0 843.7 L1775.0 845.1 L1776.0 846.4 L1777.0 847.7 L1778.0 848.9 L1779.0 850.1 L1780.0 851.2 L1781.0 852.2 L1782.0 853.2 L1783.0 854.2 L1784.0 855.1 L1785.0 856.0 L1786.0 856.8 L1787.0 857.6 L1788.0 858.4 L1789.0 859.1 L1790.0 859.8 L1791.0 860.4 L1792.0 861.1 L1793.0 861.7 L1794.0 862.3 L1795.0 862.8 L1796.0 863.4 L1797.0 863.9 L1798.0 864.4 L1799.0 864.8 L1800.0 865.3 L1804.0 866.9 L1808.0 868.3 L1812.0 869.5 L1816.0 870.5 L1820.0 871.3 L1824.0 872.1 L1828.0 872.7 L1832.0 873.3 L1836.0 873.8 L1840.0 874.2 L1844.0 874.6 L1848.0 874.9 L1852.0 875.2 L1856.0 875.5 L1860.0 875.7 L1864.0 875.9 L1868.0 876.0 L1872.0 876.2 L1876.0 876.3 L1880.0 876.4 L1884.0 876.5 L1888.0 876.6 L1892.0 876.7 L1896.0 876.7 L1900.0 876.7 L1904.0 876.7 L1908.0 876.7 L1912.0 876.7 L1916.0 876.7 L1920.0 876.7 L1924.0 876.7 L1928.0 876.7 L1932.0 876.6 L1936.0 876.6 L1940.0 876.6 L1944.0 876.5 L1948.0 876.5 L1952.0 876.4 L1956.0 876.4 L1960.0 876.3 L1964.0 876.3 L1968.0 876.2 L1972.0 876.1 L1976.0 876.1 L1980.0 876.0 L1984.0 875.9 L1988.0 875.9 L1992.0 875.8 L1996.0 875.7 L2000.0 875.6 L2004.0 875.5 L2008.0 875.5 L2012.0 875.4 L2016.0 875.3 L2020.0 875.2 L2024.0 875.1 L2028.0 875.1 L2032.0 875.0 L2036.0 874.9 L2040.0 874.8 L2044.0 874.7 L2048.0 874.6 L2052.0 874.5 L2056.0 874.4 L2060.0 874.4 L2064.0 874.3 L2068.0 874.2 L2072.0 874.1 L2076.0 874.0 L2080.0 873.9 L2084.0 873.8 L2088.0 873.7 L2092.0 873.6 L2096.0 873.5 L2100.0 873.4 L2104.0 873.3 L2108.0 873.2 L2112.0 873.1 L2116.0 873.0 L2120.0 872.9 L2124.0 872.8 L2128.0 872.7 L2132.0 872.6 L2136.0 872.5 L2140.0 872.4 L2144.0 872.3 L2148.0 872.2 L2152.0 872.1 L2156.0 872.1 L2160.0 872.0 L2164.0 871.9 L2168.0 871.8 L2172.0 871.7 L2176.0 871.5 L2180.0 871.4 L2184.0 871.3 L2188.0 871.2 L2192.0 871.1 L2196.0 871.1 L2200.0 871.0 L2204.0 870.9 L2208.0 870.8 L2212.0 870.7 L2216.0 870.6 L2220.0 870.5 L2224.0 870.4 L2228.0 870.3 L2232.0 870.2 L2236.0 870.1 L2240.0 870.0 L2244.0 869.9 L2248.0 869.8 L2252.0 869.7 L2256.0 869.6 L2260.0 869.5 L2264.0 869.4 L2268.0 869.3 L2272.0 869.2 L2276.0 869.1 L2280.0 869.0 L2284.0 868.9 L2288.0 868.8 L2292.0 868.8 L2296.0 868.7 L2300.0 868.6 L2304.0 868.5 L2308.0 868.4 L2312.0 868.3 L2316.0 868.2 L2320.0 868.1 L2324.0 868.0 L2328.0 867.9 L2332.0 867.8 L2336.0 867.7 L2340.0 867.6 L2344.0 867.5 L2348.0 867.4 L2352.0 867.3 L2356.0 867.2 L2360.0 867.1 L2364.0 867.0 L2368.0 866.9 L2372.0 866.8 L2376.0 866.7 L2380.0 866.6 L2384.0 866.5 L2388.0 866.4 L2390.0 866.4" fill="none" stroke="#00ffff" stroke-width="6.6" stroke-linejoin="round" stroke-linecap="butt"/>
<path d="M1302.0 878.8 L1306.0 878.5 L1310.0 878.1 L1314.0 877.8 L1318.0 877.4 L1322.0 877.0 L1326.0 876.5 L1330.0 876.1 L1334.0 875.6 L1338.0 875.1 L1342.0 874.6 L1346.0 874.0 L1350.0 873.5 L1354.0 872.8 L1358.0 872.2 L1362.0 871.5 L1366.0 870.8 L1370.0 870.0 L1374.0 869.1 L1378.0 868.3 L1382.0 867.3 L1386.0 866.3 L1390.0 865.2 L1394.0 864.0 L1398.0 862.8 L1402.0 861.4 L1406.0 860.0 L1410.0 858.4 L1414.0 856.7 L1418.0 854.8 L1422.0 852.8 L1426.0 850.5 L1430.0 848.1 L1434.0 845.4 L1438.0 842.4 L1442.0 839.1 L1446.0 835.4 L1450.0 831.3 L1454.0 826.6 L1458.0 821.4 L1460.0 818.5 L1461.0 817.0 L1462.0 815.5 L1463.0 813.9 L1464.0 812.2 L1465.0 810.5 L1466.0 808.7 L1467.0 806.9 L1468.0 805.0 L1469.0 803.0 L1470.0 800.9 L1471.0 798.8 L1472.0 796.6 L1473.0 794.4 L1474.0 792.0 L1475.0 789.6 L1476.0 787.0 L1477.0 784.4 L1478.0 781.6 L1479.0 778.8 L1480.0 775.8 L1481.0 772.7 L1482.0 769.5 L1483.0 766.2 L1484.0 762.7 L1485.0 759.1 L1486.0 755.3 L1487.0 751.3 L1488.0 747.2 L1489.0 742.9 L1490.0 738.4 L1491.0 733.7 L1492.0 728.8 L1493.0 723.7 L1494.0 718.3 L1495.0 712.7 L1496.0 706.9 L1497.0 700.7 L1498.0 694.3 L1499.0 687.5 L1500.0 680.5 L1501.0 673.1 L1502.0 665.3 L1503.0 657.2 L1504.0 648.7 L1505.0 639.7 L1506.0 630.4 L1507.0 620.5 L1508.0 610.2 L1509.0 599.5 L1510.0 588.2 L1511.0 576.4 L1512.0 564.0 L1513.0 551.1 L1514.0 537.6 L1515.0 523.5 L1516.0 508.9 L1517.0 493.6 L1518.0 477.8 L1519.0 461.4 L1520.0 444.5 L1521.0 427.0 L1522.0 409.1 L1523.0 390.8 L1524.0 372.1 L1525.0 353.2 L1526.0 334.1 L1527.0 314.9 L1528.0 295.9 L1529.0 277.1 L1530.0 258.7 L1531.0 240.9 L1532.0 223.9 L1533.0 207.9 L1534.0 193.1 L1535.0 179.6 L1536.0 167.8 L1537.0 157.7 L1538.0 149.5 L1539.0 143.3 L1540.0 139.3 L1541.0 137.4 L1542.0 137.6 L1543.0 140.0 L1544.0 144.5 L1545.0 151.0 L1546.0 159.3 L1547.0 169.2 L1548.0 180.6 L1549.0 193.3 L1550.0 207.1 L1551.0 221.7 L1552.0 237.1 L1553.0 252.9 L1554.0 269.0 L1555.0 285.2 L1556.0 301.5 L1557.0 317.5 L1558.0 333.4 L1559.0 348.8 L1560.0 363.9 L1561.0 378.4 L1562.0 392.4 L1563.0 405.7 L1564.0 418.5 L1565.0 430.5 L1566.0 441.9 L1567.0 452.7 L1568.0 462.7 L1569.0 472.1 L1570.0 480.7 L1571.0 488.8 L1572.0 496.1 L1573.0 502.8 L1574.0 508.9 L1575.0 514.4 L1576.0 519.2 L1577.0 523.4 L1578.0 527.1 L1579.0 530.1 L1580.0 532.7 L1581.0 534.6 L1582.0 536.0 L1583.0 536.9 L1584.0 537.2 L1585.0 537.0 L1586.0 536.3 L1587.0 535.1 L1588.0 533.4 L1589.0 531.1 L1590.0 528.4 L1591.0 525.1 L1592.0 521.4 L1593.0 517.2 L1594.0 512.5 L1595.0 507.3 L1596.0 501.7 L1597.0 495.6 L1598.0 489.0 L1599.0 482.0 L1600.0 474.7 L1601.0 466.9 L1602.0 458.7 L1603.0 450.2 L1604.0 441.4 L1605.0 432.4 L1606.0 423.1 L1607.0 413.6 L1608.0 404.1 L1609.0 394.5 L1610.0 384.9 L1611.0 375.4 L1612.0 366.2 L1613.0 357.2 L1614.0 348.6 L1615.0 340.5 L1616.0 333.0 L1617.0 326.2 L1618.0 320.1 L1619.0 315.0 L1620.0 310.8 L1621.0 307.6 L1622.0 305.5 L1623.0 304.6 L1624.0 304.9 L1625.0 306.3 L1626.0 308.9 L1627.0 312.7 L1628.0 317.6 L1629.0 323.6 L1630.0 330.6 L1631.0 338.5 L1632.0 347.3 L1633.0 356.7 L1634.0 366.9 L1635.0 377.6 L1636.0 388.7 L1637.0 400.2 L1638.0 412.0 L1639.0 423.9 L1640.0 436.0 L1641.0 448.1 L1642.0 460.2 L1643.0 472.2 L1644.0 484.0 L1645.0 495.7 L1646.0 507.2 L1647.0 518.4 L1648.0 529.4 L1649.0 540.0 L1650.0 550.4 L1651.0 560.5 L1652.0 570.2 L1653.0 579.6 L1654.0 588.7 L1655.0 597.5 L1656.0 606.0 L1657.0 614.1 L1658.0 622.0 L1659.0 629.5 L1660.0 636.7 L1661.0 643.7 L1662.0 650.3 L1663.0 656.7 L1664.0 662.9 L1665.0 668.7 L1666.0 674.4 L1667.0 679.7 L1668.0 684.9 L1669.0 689.8 L1670.0 694.5 L1671.0 699.1 L1672.0 703.4 L1673.0 707.5 L1674.0 711.4 L1675.0 715.1 L1676.0 718.7 L1677.0 722.1 L1678.0 725.4 L1679.0 728.4 L1680.0 731.4 L1681.0 734.1 L1682.0 736.8 L1683.0 739.3 L1684.0 741.6 L1685.0 743.9 L1686.0 745.9 L1687.0 747.9 L1688.0 749.7 L1689.0 751.5 L1690.0 753.0 L1691.0 754.5 L1692.0 755.9 L1693.0 757.1 L1694.0 758.2 L1695.0 759.2 L1696.0 760.1 L1697.0 760.8 L1698.0 761.5 L1699.0 762.0 L1700.0 762.4 L1701.0 762.7 L1702.0 762.8 L1703.0 762.9 L1704.0 762.8 L1705.0 762.6 L1706.0 762.3 L1707.0 761.8 L1708.0 761.2 L1709.0 760.5 L1710.0 759.7 L1711.0 758.7 L1712.0 757.6 L1713.0 756.4 L1714.0 755.0 L1715.0 753.5 L1716.0 751.9 L1717.0 750.2 L1718.0 748.4 L1719.0 746.5 L1720.0 744.5 L1721.0 742.4 L1722.0 740.2 L1723.0 738.0 L1724.0 735.8 L1725.0 733.6 L1726.0 731.5 L1727.0 729.3 L1728.0 727.3 L1729.0 725.4 L1730.0 723.7 L1731.0 722.2 L1732.0 720.8 L1733.0 719.8 L1734.0 719.0 L1735.0 718.6 L1736.0 718.5 L1737.0 718.7 L1738.0 719.3 L1739.0 720.3 L1740.0 721.6 L1741.0 723.2 L1742.0 725.2 L1743.0 727.5 L1744.0 730.0 L1745.0 732.8 L1746.0 735.8 L1747.0 739.0 L1748.0 742.3 L1749.0 745.7 L1750.0 749.2 L1751.0 752.7 L1752.0 756.3 L1753.0 759.8 L1754.0 763.3 L1755.0 766.8 L1756.0 770.3 L1757.0 773.6 L1758.0 776.9 L1759.0 780.1 L1760.0 783.2 L1761.0 786.2 L1762.0 789.1 L1763.0 791.9 L1764.0 794.6 L1765.0 797.2 L1766.0 799.7 L1767.0 802.1 L1768.0 804.4 L1769.0 806.7 L1770.0 808.8 L1771.0 810.8 L1772.0 812.8 L1773.0 814.7 L1774.0 816.4 L1775.0 818.2 L1776.0 819.8 L1777.0 821.4 L1778.0 822.9 L1779.0 824.4 L1780.0 825.8 L1781.0 827.1 L1782.0 828.4 L1783.0 829.6 L1784.0 830.8 L1785.0 832.0 L1786.0 833.0 L1787.0 834.1 L1788.0 835.1 L1789.0 836.1 L1790.0 837.0 L1791.0 837.9 L1792.0 838.8 L1793.0 839.6 L1794.0 840.5 L1795.0 841.2 L1796.0 842.0 L1797.0 842.7 L1798.0 843.4 L1799.0 844.1 L1800.0 844.8 L1804.0 847.2 L1808.0 849.3 L1812.0 851.2 L1816.0 852.9 L1820.0 854.4 L1824.0 855.8 L1828.0 857.0 L1832.0 858.1 L1836.0 859.1 L1840.0 860.0 L1844.0 860.9 L1848.0 861.6 L1852.0 862.3 L1856.0 863.0 L1860.0 863.6 L1864.0 864.1 L1868.0 864.7 L1872.0 865.1 L1876.0 865.6 L1880.0 866.0 L1884.0 866.4 L1888.0 866.7 L1892.0 867.1 L1896.0 867.4 L1900.0 867.6 L1904.0 867.9 L1908.0 868.1 L1912.0 868.3 L1916.0 868.5 L1920.0 868.7 L1924.0 868.9 L1928.0 869.1 L1932.0 869.2 L1936.0 869.4 L1940.0 869.5 L1944.0 869.6 L1948.0 869.7 L1952.0 869.8 L1956.0 869.9 L1960.0 870.0 L1964.0 870.1 L1968.0 870.2 L1972.0 870.2 L1976.0 870.3 L1980.0 870.3 L1984.0 870.4 L1988.0 870.4 L1992.0 870.5 L1996.0 870.5 L2000.0 870.5 L2004.0 870.5 L2008.0 870.6 L2012.0 870.6 L2016.0 870.6 L2020.0 870.6 L2024.0 870.6 L2028.0 870.6 L2032.0 870.6 L2036.0 870.6 L2040.0 870.6 L2044.0 870.6 L2048.0 870.5 L2052.0 870.5 L2056.0 870.5 L2060.0 870.5 L2064.0 870.5 L2068.0 870.4 L2072.0 870.4 L2076.0 870.4 L2080.0 870.3 L2084.0 870.3 L2088.0 870.3 L2092.0 870.2 L2096.0 870.2 L2100.0 870.1 L2104.0 870.1 L2108.0 870.0 L2112.0 870.0 L2116.0 870.0 L2120.0 869.9 L2124.0 869.9 L2128.0 869.8 L2132.0 869.7 L2136.0 869.7 L2140.0 869.6 L2144.0 869.6 L2148.0 869.5 L2152.0 869.5 L2156.0 869.4 L2160.0 869.3 L2164.0 869.3 L2168.0 869.2 L2172.0 869.1 L2176.0 869.1 L2180.0 869.0 L2184.0 868.9 L2188.0 868.9 L2192.0 868.8 L2196.0 868.7 L2200.0 868.7 L2204.0 868.6 L2208.0 868.5 L2212.0 868.5 L2216.0 868.4 L2220.0 868.3 L2224.0 868.3 L2228.0 868.2 L2232.0 868.1 L2236.0 868.1 L2240.0 868.0 L2244.0 867.9 L2248.0 867.9 L2252.0 867.8 L2256.0 867.7 L2260.0 867.6 L2264.0 867.6 L2268.0 867.5 L2272.0 867.4 L2276.0 867.3 L2280.0 867.3 L2284.0 867.2 L2288.0 867.1 L2292.0 867.0 L2296.0 867.0 L2300.0 866.9 L2304.0 866.8 L2308.0 866.7 L2312.0 866.6 L2316.0 866.6 L2320.0 866.5 L2324.0 866.4 L2328.0 866.3 L2332.0 866.2 L2336.0 866.2 L2340.0 866.1 L2344.0 866.0 L2348.0 865.9 L2352.0 865.8 L2356.0 865.7 L2360.0 865.7 L2364.0 865.6 L2368.0 865.5 L2372.0 865.4 L2376.0 865.3 L2380.0 865.2 L2384.0 865.2 L2388.0 865.1 L2390.0 865.0" fill="none" stroke="#000000" stroke-width="7.0" stroke-linejoin="round" stroke-linecap="butt"/>
<rect x="1561.20" y="896.00" width="7.00" height="16.00" fill="#000"/>
<rect x="1857.10" y="896.00" width="7.00" height="16.00" fill="#000"/>
<rect x="2153.00" y="896.00" width="7.00" height="16.00" fill="#000"/>
<rect x="1413.25" y="905.00" width="7.00" height="7.00" fill="#000"/>
<rect x="1709.15" y="905.00" width="7.00" height="7.00" fill="#000"/>
<rect x="2005.05" y="905.00" width="7.00" height="7.00" fill="#000"/>
<rect x="2300.95" y="905.00" width="7.00" height="7.00" fill="#000"/>
<rect x="1300" y="895.3" width="15" height="7.3" fill="#000"/>
<text transform="translate(1355.19 132.14) scale(0.9325 1)" font-size="88.12">(b)</text>
<text transform="translate(1630.62 163.56) scale(0.8556 1)" font-size="44.95">C-C/C=C</text>
<text transform="translate(1706.88 359.46) scale(0.8760 1)" font-size="44.80">C-O</text>
<text transform="translate(1800.74 746.86) scale(0.8437 1)" font-size="45.25">C=O/C-N</text>
<line x1="1659.40" y1="166.00" x2="1569.66" y2="221.73" stroke="#000" stroke-width="5.4" stroke-linecap="round"/>
<polygon points="1553.60,231.70 1572.00,210.15 1575.85,217.88 1581.07,224.76" fill="#000"/>
<line x1="1740.50" y1="361.00" x2="1643.54" y2="407.77" stroke="#000" stroke-width="5.4" stroke-linecap="round"/>
<polygon points="1624.00,417.20 1648.01,395.62 1651.08,404.13 1655.83,411.84" fill="#000"/>
<line x1="1824.60" y1="764.20" x2="1768.56" y2="800.83" stroke="#000" stroke-width="5.4" stroke-linecap="round"/>
<polygon points="1750.40,812.70 1771.42,788.21 1775.57,796.25 1781.27,803.27" fill="#000"/>
<text transform="translate(1259.55 555.66) rotate(-90) scale(1.0307 1)" font-size="52.94">Counts/s</text>
<text transform="translate(1529.92 974.58) scale(0.8759 1)" font-size="52.76">285</text>
<text transform="translate(1825.85 974.58) scale(0.8759 1)" font-size="52.76">290</text>
<text transform="translate(2121.72 974.58) scale(0.8759 1)" font-size="52.76">295</text>
<text transform="translate(1618.89 1022.70) scale(0.9024 1)" font-size="54.06">Binding Energy (eV)</text>
<rect x="74.50" y="1064.50" width="1094.00" height="896.50" fill="none" stroke="#000" stroke-width="7.0"/>
<path d="M78.0 1919.0 L86.0 1925.0 L92.0 1935.0 L98.1 1935.0 L108.0 1915.0 L113.0 1906.0 L118.2 1906.0 L124.0 1933.0 L127.6 1933.0 L137.0 1912.0 L143.0 1904.0 L147.7 1904.0 L155.0 1933.0 L159.7 1933.0 L167.0 1912.0 L174.4 1907.0 L184.0 1928.0 L189.2 1928.0 L195.0 1910.0 L201.2 1903.0 L207.0 1922.0 L212.0 1922.0 L222.7 1897.8 L229.0 1904.0 L236.0 1908.5 L243.0 1900.0 L252.1 1896.4 L260.0 1900.0 L268.2 1903.1 L276.0 1895.0 L284.3 1884.4 L292.3 1855.0 L300.3 1828.2 L308.3 1761.2 L316.4 1694.2 L324.4 1613.9 L335.1 1480.0 L342.1 1406.0 L347.1 1347.4 L353.8 1280.5 L359.7 1257.0 L368.9 1238.6 L372.3 1201.0 L378.1 1215.2 L383.1 1280.5 L389.8 1290.5 L396.5 1322.3 L400.7 1364.2 L404.9 1414.4 L410.8 1480.0 L412.8 1493.4 L420.8 1520.2 L431.5 1573.7 L439.6 1622.0 L450.3 1662.1 L458.3 1664.8 L469.0 1713.0 L477.1 1718.3 L487.8 1742.5 L501.2 1761.2 L506.5 1774.6 L510.0 1765.0 L517.2 1758.5 L530.6 1790.7 L541.3 1796.0 L552.0 1814.8 L560.0 1836.4 L568.9 1854.2 L578.0 1860.0 L583.9 1868.7 L589.7 1880.9 L594.9 1871.5 L600.0 1868.0 L604.5 1866.5 L609.0 1866.1 L614.5 1872.0 L620.0 1876.0 L626.4 1888.4 L632.7 1895.8 L638.7 1872.0 L645.4 1871.5 L652.0 1870.5 L658.0 1878.0 L663.9 1867.8 L669.8 1860.1 L677.2 1867.6 L682.4 1851.0 L687.6 1837.9 L693.5 1848.4 L699.5 1855.7 L706.9 1843.8 L712.8 1847.4 L718.8 1843.8 L724.8 1857.8 L730.7 1870.5 L738.1 1863.1 L742.5 1864.8 L747.0 1872.0 L754.4 1878.0 L761.1 1869.9 L767.8 1866.1 L773.8 1865.9 L779.7 1858.7 L785.6 1885.4 L791.5 1876.2 L797.5 1866.1 L802.0 1869.7 L806.4 1880.9 L813.8 1877.8 L821.2 1875.0 L827.1 1883.9 L831.5 1875.4 L836.0 1872.0 L840.5 1874.3 L845.0 1879.4 L853.9 1873.9 L862.8 1870.5 L867.2 1875.6 L871.7 1883.9 L879.1 1880.7 L886.5 1875.0 L891.0 1880.8 L895.4 1886.9 L904.3 1878.2 L913.2 1872.0 L920.6 1883.9 L927.3 1878.9 L934.0 1872.0 L938.5 1881.3 L942.9 1886.9 L947.3 1878.8 L951.8 1878.0 L956.2 1883.3 L960.7 1889.8 L965.2 1881.7 L969.6 1878.0 L975.5 1877.6 L981.5 1878.0 L986.0 1877.4 L990.4 1882.4 L996.3 1877.2 L1002.3 1872.0 L1009.7 1867.6 L1017.1 1885.4 L1021.5 1886.1 L1026.0 1886.9 L1030.5 1880.3 L1034.9 1875.0 L1040.8 1872.0 L1045.3 1872.7 L1049.8 1878.0 L1054.2 1883.8 L1058.7 1891.3 L1066.0 1878.0 L1073.5 1866.1 L1078.0 1860.0 L1083.9 1843.8 L1088.0 1847.5 L1092.0 1856.0 L1096.8 1858.8 L1101.7 1867.6 L1107.6 1851.2 L1112.8 1854.6 L1118.0 1857.0 L1126.0 1856.0 L1131.4 1867.6 L1138.8 1858.7 L1143.4 1856.9 L1148.0 1860.0 L1152.3 1863.4 L1156.6 1861.6 L1161.0 1855.0 L1165.5 1845.3" fill="none" stroke="#000000" stroke-width="7.0" stroke-linejoin="miter" stroke-linecap="butt" stroke-miterlimit="3"/>
<path d="M78.0 1918.8 L250.0 1918.5 L400.0 1917.6 L600.0 1913.6 L700.0 1911.9 L1165.0 1899.5" fill="none" stroke="#0000ff" stroke-width="7.0" stroke-linejoin="round" stroke-linecap="butt"/>
<path d="M78.0 1912.6 L82.0 1912.4 L86.0 1912.3 L90.0 1912.2 L94.0 1912.0 L98.0 1911.9 L102.0 1911.7 L106.0 1911.5 L110.0 1911.4 L114.0 1911.2 L118.0 1911.0 L122.0 1910.8 L126.0 1910.6 L130.0 1910.4 L134.0 1910.2 L138.0 1910.0 L142.0 1909.8 L146.0 1909.6 L150.0 1909.3 L154.0 1909.1 L158.0 1908.8 L162.0 1908.5 L166.0 1908.3 L170.0 1908.0 L174.0 1907.7 L178.0 1907.4 L182.0 1907.1 L186.0 1906.7 L190.0 1906.4 L194.0 1906.0 L198.0 1905.6 L202.0 1905.2 L206.0 1904.8 L210.0 1904.4 L214.0 1904.0 L218.0 1903.5 L222.0 1903.0 L226.0 1902.5 L230.0 1902.0 L234.0 1901.4 L238.0 1900.8 L242.0 1900.2 L246.0 1899.5 L250.0 1898.9 L254.0 1898.1 L258.0 1897.4 L262.0 1896.5 L266.0 1895.7 L270.0 1894.8 L274.0 1893.8 L278.0 1892.8 L282.0 1891.8 L286.0 1890.7 L290.0 1889.5 L294.0 1888.2 L298.0 1886.9 L300.0 1886.2 L301.0 1885.9 L302.0 1885.5 L303.0 1885.1 L304.0 1884.8 L305.0 1884.4 L306.0 1884.0 L307.0 1883.6 L308.0 1883.2 L309.0 1882.8 L310.0 1882.4 L311.0 1882.0 L312.0 1881.6 L313.0 1881.2 L314.0 1880.8 L315.0 1880.3 L316.0 1879.9 L317.0 1879.4 L318.0 1879.0 L319.0 1878.5 L320.0 1878.0 L321.0 1877.5 L322.0 1877.1 L323.0 1876.6 L324.0 1876.1 L325.0 1875.5 L326.0 1875.0 L327.0 1874.5 L328.0 1874.0 L329.0 1873.4 L330.0 1872.9 L331.0 1872.3 L332.0 1871.7 L333.0 1871.1 L334.0 1870.6 L335.0 1870.0 L336.0 1869.3 L337.0 1868.7 L338.0 1868.1 L339.0 1867.5 L340.0 1866.8 L341.0 1866.1 L342.0 1865.5 L343.0 1864.8 L344.0 1864.1 L345.0 1863.4 L346.0 1862.7 L347.0 1861.9 L348.0 1861.2 L349.0 1860.4 L350.0 1859.7 L351.0 1858.9 L352.0 1858.1 L353.0 1857.3 L354.0 1856.4 L355.0 1855.6 L356.0 1854.8 L357.0 1853.9 L358.0 1853.0 L359.0 1852.1 L360.0 1851.2 L361.0 1850.3 L362.0 1849.4 L363.0 1848.4 L364.0 1847.4 L365.0 1846.5 L366.0 1845.5 L367.0 1844.4 L368.0 1843.4 L369.0 1842.4 L370.0 1841.3 L371.0 1840.2 L372.0 1839.1 L373.0 1838.0 L374.0 1836.9 L375.0 1835.7 L376.0 1834.5 L377.0 1833.3 L378.0 1832.1 L379.0 1830.9 L380.0 1829.7 L381.0 1828.4 L382.0 1827.1 L383.0 1825.8 L384.0 1824.5 L385.0 1823.2 L386.0 1821.8 L387.0 1820.4 L388.0 1819.1 L389.0 1817.6 L390.0 1816.2 L391.0 1814.8 L392.0 1813.3 L393.0 1811.8 L394.0 1810.3 L395.0 1808.8 L396.0 1807.3 L397.0 1805.8 L398.0 1804.2 L399.0 1802.6 L400.0 1801.0 L401.0 1799.4 L402.0 1797.8 L403.0 1796.2 L404.0 1794.5 L405.0 1792.9 L406.0 1791.2 L407.0 1789.5 L408.0 1787.8 L409.0 1786.1 L410.0 1784.4 L411.0 1782.7 L412.0 1781.0 L413.0 1779.3 L414.0 1777.6 L415.0 1775.9 L416.0 1774.2 L417.0 1772.5 L418.0 1770.8 L419.0 1769.2 L420.0 1767.5 L421.0 1765.8 L422.0 1764.2 L423.0 1762.6 L424.0 1761.0 L425.0 1759.4 L426.0 1757.8 L427.0 1756.3 L428.0 1754.8 L429.0 1753.3 L430.0 1751.9 L431.0 1750.5 L432.0 1749.1 L433.0 1747.8 L434.0 1746.5 L435.0 1745.3 L436.0 1744.1 L437.0 1743.0 L438.0 1741.9 L439.0 1740.9 L440.0 1739.9 L441.0 1739.0 L442.0 1738.1 L443.0 1737.3 L444.0 1736.6 L445.0 1735.9 L446.0 1735.3 L447.0 1734.8 L448.0 1734.4 L449.0 1734.0 L450.0 1733.7 L451.0 1733.4 L452.0 1733.2 L453.0 1733.2 L454.0 1733.1 L455.0 1733.2 L456.0 1733.3 L457.0 1733.5 L458.0 1733.8 L459.0 1734.1 L460.0 1734.5 L461.0 1735.0 L462.0 1735.5 L463.0 1736.1 L464.0 1736.8 L465.0 1737.6 L466.0 1738.4 L467.0 1739.2 L468.0 1740.2 L469.0 1741.2 L470.0 1742.2 L471.0 1743.3 L472.0 1744.4 L473.0 1745.6 L474.0 1746.8 L475.0 1748.1 L476.0 1749.4 L477.0 1750.8 L478.0 1752.2 L479.0 1753.6 L480.0 1755.1 L481.0 1756.6 L482.0 1758.1 L483.0 1759.6 L484.0 1761.2 L485.0 1762.7 L486.0 1764.3 L487.0 1765.9 L488.0 1767.6 L489.0 1769.2 L490.0 1770.9 L491.0 1772.5 L492.0 1774.2 L493.0 1775.8 L494.0 1777.5 L495.0 1779.2 L496.0 1780.8 L497.0 1782.5 L498.0 1784.1 L499.0 1785.8 L500.0 1787.4 L501.0 1789.1 L502.0 1790.7 L503.0 1792.3 L504.0 1793.9 L505.0 1795.5 L506.0 1797.1 L507.0 1798.7 L508.0 1800.3 L509.0 1801.8 L510.0 1803.4 L511.0 1804.9 L512.0 1806.4 L513.0 1807.9 L514.0 1809.3 L515.0 1810.8 L516.0 1812.2 L517.0 1813.6 L518.0 1815.1 L519.0 1816.4 L520.0 1817.8 L521.0 1819.1 L522.0 1820.5 L523.0 1821.8 L524.0 1823.1 L525.0 1824.4 L526.0 1825.6 L527.0 1826.9 L528.0 1828.1 L529.0 1829.3 L530.0 1830.5 L531.0 1831.6 L532.0 1832.8 L533.0 1833.9 L534.0 1835.0 L535.0 1836.1 L536.0 1837.2 L537.0 1838.2 L538.0 1839.3 L539.0 1840.3 L540.0 1841.3 L541.0 1842.3 L542.0 1843.3 L543.0 1844.2 L544.0 1845.2 L545.0 1846.1 L546.0 1847.0 L547.0 1847.9 L548.0 1848.8 L549.0 1849.7 L550.0 1850.5 L551.0 1851.4 L552.0 1852.2 L553.0 1853.0 L554.0 1853.8 L555.0 1854.6 L556.0 1855.4 L557.0 1856.1 L558.0 1856.9 L559.0 1857.6 L560.0 1858.3 L561.0 1859.0 L562.0 1859.7 L563.0 1860.4 L564.0 1861.1 L565.0 1861.7 L566.0 1862.4 L567.0 1863.0 L568.0 1863.6 L569.0 1864.3 L570.0 1864.9 L571.0 1865.5 L572.0 1866.1 L573.0 1866.6 L574.0 1867.2 L575.0 1867.8 L576.0 1868.3 L577.0 1868.8 L578.0 1869.4 L579.0 1869.9 L580.0 1870.4 L581.0 1870.9 L582.0 1871.4 L583.0 1871.9 L584.0 1872.4 L585.0 1872.8 L586.0 1873.3 L587.0 1873.7 L588.0 1874.2 L589.0 1874.6 L590.0 1875.1 L591.0 1875.5 L592.0 1875.9 L593.0 1876.3 L594.0 1876.7 L595.0 1877.1 L596.0 1877.5 L597.0 1877.9 L598.0 1878.3 L599.0 1878.7 L600.0 1879.0 L601.0 1879.4 L602.0 1879.7 L603.0 1880.1 L604.0 1880.4 L605.0 1880.8 L606.0 1881.1 L607.0 1881.5 L608.0 1881.8 L609.0 1882.1 L610.0 1882.4 L611.0 1882.7 L612.0 1883.0 L613.0 1883.3 L614.0 1883.6 L615.0 1883.9 L616.0 1884.2 L617.0 1884.5 L618.0 1884.8 L619.0 1885.1 L620.0 1885.3 L624.0 1886.4 L628.0 1887.3 L632.0 1888.3 L636.0 1889.1 L640.0 1890.0 L644.0 1890.7 L648.0 1891.5 L652.0 1892.2 L656.0 1892.8 L660.0 1893.4 L664.0 1894.0 L668.0 1894.6 L672.0 1895.1 L676.0 1895.6 L680.0 1896.0 L684.0 1896.5 L688.0 1896.9 L692.0 1897.3 L696.0 1897.7 L700.0 1898.0 L704.0 1898.3 L708.0 1898.6 L712.0 1898.9 L716.0 1899.2 L720.0 1899.4 L724.0 1899.6 L728.0 1899.8 L732.0 1900.0 L736.0 1900.2 L740.0 1900.4 L744.0 1900.5 L748.0 1900.7 L752.0 1900.8 L756.0 1901.0 L760.0 1901.1 L764.0 1901.2 L768.0 1901.3 L772.0 1901.4 L776.0 1901.5 L780.0 1901.6 L784.0 1901.7 L788.0 1901.8 L792.0 1901.8 L796.0 1901.9 L800.0 1902.0 L804.0 1902.0 L808.0 1902.1 L812.0 1902.1 L816.0 1902.1 L820.0 1902.2 L824.0 1902.2 L828.0 1902.2 L832.0 1902.3 L836.0 1902.3 L840.0 1902.3 L844.0 1902.3 L848.0 1902.3 L852.0 1902.3 L856.0 1902.3 L860.0 1902.3 L864.0 1902.3 L868.0 1902.3 L872.0 1902.3 L876.0 1902.3 L880.0 1902.2 L884.0 1902.2 L888.0 1902.2 L892.0 1902.2 L896.0 1902.2 L900.0 1902.1 L904.0 1902.1 L908.0 1902.1 L912.0 1902.0 L916.0 1902.0 L920.0 1902.0 L924.0 1901.9 L928.0 1901.9 L932.0 1901.8 L936.0 1901.8 L940.0 1901.8 L944.0 1901.7 L948.0 1901.7 L952.0 1901.6 L956.0 1901.6 L960.0 1901.5 L964.0 1901.5 L968.0 1901.4 L972.0 1901.3 L976.0 1901.3 L980.0 1901.2 L984.0 1901.2 L988.0 1901.1 L992.0 1901.0 L996.0 1901.0 L1000.0 1900.9 L1004.0 1900.9 L1008.0 1900.8 L1012.0 1900.7 L1016.0 1900.7 L1020.0 1900.6 L1024.0 1900.5 L1028.0 1900.5 L1032.0 1900.4 L1036.0 1900.3 L1040.0 1900.2 L1044.0 1900.2 L1048.0 1900.1 L1052.0 1900.0 L1056.0 1900.0 L1060.0 1899.9 L1064.0 1899.8 L1068.0 1899.7 L1072.0 1899.6 L1076.0 1899.6 L1080.0 1899.5 L1084.0 1899.4 L1088.0 1899.3 L1092.0 1899.3 L1096.0 1899.2 L1100.0 1899.1 L1104.0 1899.0 L1108.0 1898.9 L1112.0 1898.9 L1116.0 1898.8 L1120.0 1898.7 L1124.0 1898.6 L1128.0 1898.5 L1132.0 1898.4 L1136.0 1898.4 L1140.0 1898.3 L1144.0 1898.2 L1148.0 1898.1 L1152.0 1898.0 L1156.0 1897.9 L1160.0 1897.8 L1164.0 1897.8 L1165.0 1897.7" fill="none" stroke="#008080" stroke-width="6.6" stroke-linejoin="round" stroke-linecap="butt"/>
<path d="M78.0 1911.1 L82.0 1910.9 L86.0 1910.6 L90.0 1910.4 L94.0 1910.1 L98.0 1909.9 L102.0 1909.6 L106.0 1909.3 L110.0 1909.0 L114.0 1908.7 L118.0 1908.4 L122.0 1908.1 L126.0 1907.7 L130.0 1907.4 L134.0 1907.0 L138.0 1906.6 L142.0 1906.2 L146.0 1905.7 L150.0 1905.2 L154.0 1904.7 L158.0 1904.2 L162.0 1903.7 L166.0 1903.1 L170.0 1902.5 L174.0 1901.8 L178.0 1901.1 L182.0 1900.4 L186.0 1899.6 L190.0 1898.8 L194.0 1897.9 L198.0 1897.0 L202.0 1896.0 L206.0 1894.9 L210.0 1893.7 L214.0 1892.5 L218.0 1891.2 L222.0 1889.7 L226.0 1888.2 L230.0 1886.5 L234.0 1884.7 L238.0 1882.8 L242.0 1880.6 L246.0 1878.3 L250.0 1875.8 L254.0 1873.0 L258.0 1870.0 L262.0 1866.6 L266.0 1862.9 L270.0 1858.8 L274.0 1854.3 L278.0 1849.3 L282.0 1843.6 L286.0 1837.3 L290.0 1830.2 L294.0 1822.2 L298.0 1813.1 L300.0 1808.1 L301.0 1805.5 L302.0 1802.8 L303.0 1800.0 L304.0 1797.1 L305.0 1794.1 L306.0 1790.9 L307.0 1787.7 L308.0 1784.4 L309.0 1781.0 L310.0 1777.4 L311.0 1773.7 L312.0 1769.9 L313.0 1765.9 L314.0 1761.8 L315.0 1757.6 L316.0 1753.2 L317.0 1748.6 L318.0 1743.8 L319.0 1738.9 L320.0 1733.8 L321.0 1728.5 L322.0 1723.0 L323.0 1717.3 L324.0 1711.4 L325.0 1705.2 L326.0 1698.9 L327.0 1692.2 L328.0 1685.4 L329.0 1678.2 L330.0 1670.8 L331.0 1663.1 L332.0 1655.2 L333.0 1646.9 L334.0 1638.3 L335.0 1629.5 L336.0 1620.3 L337.0 1610.8 L338.0 1600.9 L339.0 1590.7 L340.0 1580.2 L341.0 1569.4 L342.0 1558.2 L343.0 1546.7 L344.0 1534.9 L345.0 1522.7 L346.0 1510.3 L347.0 1497.6 L348.0 1484.6 L349.0 1471.4 L350.0 1458.0 L351.0 1444.4 L352.0 1430.7 L353.0 1416.9 L354.0 1403.1 L355.0 1389.4 L356.0 1375.8 L357.0 1362.4 L358.0 1349.3 L359.0 1336.5 L360.0 1324.3 L361.0 1312.5 L362.0 1301.5 L363.0 1291.2 L364.0 1281.8 L365.0 1273.3 L366.0 1265.8 L367.0 1259.5 L368.0 1254.3 L369.0 1250.4 L370.0 1247.8 L371.0 1246.5 L372.0 1246.6 L373.0 1247.9 L374.0 1250.7 L375.0 1254.6 L376.0 1259.9 L377.0 1266.3 L378.0 1273.8 L379.0 1282.4 L380.0 1291.9 L381.0 1302.2 L382.0 1313.3 L383.0 1325.1 L384.0 1337.4 L385.0 1350.2 L386.0 1363.3 L387.0 1376.7 L388.0 1390.3 L389.0 1404.0 L390.0 1417.8 L391.0 1431.5 L392.0 1445.2 L393.0 1458.8 L394.0 1472.2 L395.0 1485.4 L396.0 1498.3 L397.0 1511.0 L398.0 1523.4 L399.0 1535.5 L400.0 1547.3 L401.0 1558.8 L402.0 1569.9 L403.0 1580.7 L404.0 1591.1 L405.0 1601.2 L406.0 1611.0 L407.0 1620.5 L408.0 1629.6 L409.0 1638.5 L410.0 1647.0 L411.0 1655.2 L412.0 1663.1 L413.0 1670.7 L414.0 1678.1 L415.0 1685.2 L416.0 1692.0 L417.0 1698.6 L418.0 1704.9 L419.0 1711.0 L420.0 1716.9 L421.0 1722.6 L422.0 1728.0 L423.0 1733.3 L424.0 1738.4 L425.0 1743.2 L426.0 1747.9 L427.0 1752.5 L428.0 1756.9 L429.0 1761.1 L430.0 1765.1 L431.0 1769.1 L432.0 1772.8 L433.0 1776.5 L434.0 1780.0 L435.0 1783.4 L436.0 1786.7 L437.0 1789.9 L438.0 1793.0 L439.0 1795.9 L440.0 1798.8 L441.0 1801.6 L442.0 1804.2 L443.0 1806.8 L444.0 1809.3 L445.0 1811.8 L446.0 1814.1 L447.0 1816.4 L448.0 1818.6 L449.0 1820.7 L450.0 1822.8 L451.0 1824.8 L452.0 1826.7 L453.0 1828.6 L454.0 1830.5 L455.0 1832.2 L456.0 1833.9 L457.0 1835.6 L458.0 1837.2 L459.0 1838.8 L460.0 1840.3 L461.0 1841.8 L462.0 1843.2 L463.0 1844.6 L464.0 1846.0 L465.0 1847.3 L466.0 1848.6 L467.0 1849.9 L468.0 1851.1 L469.0 1852.3 L470.0 1853.4 L471.0 1854.5 L472.0 1855.6 L473.0 1856.7 L474.0 1857.7 L475.0 1858.7 L476.0 1859.7 L477.0 1860.7 L478.0 1861.6 L479.0 1862.5 L480.0 1863.4 L481.0 1864.2 L482.0 1865.1 L483.0 1865.9 L484.0 1866.7 L485.0 1867.5 L486.0 1868.3 L487.0 1869.0 L488.0 1869.7 L489.0 1870.4 L490.0 1871.1 L491.0 1871.8 L492.0 1872.5 L493.0 1873.1 L494.0 1873.7 L495.0 1874.3 L496.0 1874.9 L497.0 1875.5 L498.0 1876.1 L499.0 1876.7 L500.0 1877.2 L501.0 1877.8 L502.0 1878.3 L503.0 1878.8 L504.0 1879.3 L505.0 1879.8 L506.0 1880.3 L507.0 1880.7 L508.0 1881.2 L509.0 1881.7 L510.0 1882.1 L511.0 1882.5 L512.0 1883.0 L513.0 1883.4 L514.0 1883.8 L515.0 1884.2 L516.0 1884.6 L517.0 1884.9 L518.0 1885.3 L519.0 1885.7 L520.0 1886.0 L521.0 1886.4 L522.0 1886.7 L523.0 1887.1 L524.0 1887.4 L525.0 1887.7 L526.0 1888.1 L527.0 1888.4 L528.0 1888.7 L529.0 1889.0 L530.0 1889.3 L531.0 1889.6 L532.0 1889.8 L533.0 1890.1 L534.0 1890.4 L535.0 1890.7 L536.0 1890.9 L537.0 1891.2 L538.0 1891.4 L539.0 1891.7 L540.0 1891.9 L541.0 1892.2 L542.0 1892.4 L543.0 1892.6 L544.0 1892.9 L545.0 1893.1 L546.0 1893.3 L547.0 1893.5 L548.0 1893.7 L549.0 1893.9 L550.0 1894.1 L551.0 1894.3 L552.0 1894.5 L553.0 1894.7 L554.0 1894.9 L555.0 1895.1 L556.0 1895.3 L557.0 1895.5 L558.0 1895.7 L559.0 1895.8 L560.0 1896.0 L561.0 1896.2 L562.0 1896.3 L563.0 1896.5 L564.0 1896.7 L565.0 1896.8 L566.0 1897.0 L567.0 1897.1 L568.0 1897.3 L569.0 1897.4 L570.0 1897.6 L571.0 1897.7 L572.0 1897.8 L573.0 1898.0 L574.0 1898.1 L575.0 1898.2 L576.0 1898.4 L577.0 1898.5 L578.0 1898.6 L579.0 1898.8 L580.0 1898.9 L581.0 1899.0 L582.0 1899.1 L583.0 1899.2 L584.0 1899.4 L585.0 1899.5 L586.0 1899.6 L587.0 1899.7 L588.0 1899.8 L589.0 1899.9 L590.0 1900.0 L591.0 1900.1 L592.0 1900.2 L593.0 1900.3 L594.0 1900.4 L595.0 1900.5 L596.0 1900.6 L597.0 1900.7 L598.0 1900.8 L599.0 1900.9 L600.0 1901.0 L601.0 1901.1 L602.0 1901.1 L603.0 1901.2 L604.0 1901.3 L605.0 1901.4 L606.0 1901.5 L607.0 1901.6 L608.0 1901.7 L609.0 1901.7 L610.0 1901.8 L611.0 1901.9 L612.0 1902.0 L613.0 1902.0 L614.0 1902.1 L615.0 1902.2 L616.0 1902.3 L617.0 1902.3 L618.0 1902.4 L619.0 1902.5 L620.0 1902.5 L624.0 1902.8 L628.0 1903.1 L632.0 1903.3 L636.0 1903.5 L640.0 1903.7 L644.0 1903.9 L648.0 1904.1 L652.0 1904.3 L656.0 1904.4 L660.0 1904.6 L664.0 1904.7 L668.0 1904.9 L672.0 1905.0 L676.0 1905.1 L680.0 1905.2 L684.0 1905.4 L688.0 1905.5 L692.0 1905.6 L696.0 1905.6 L700.0 1905.7 L704.0 1905.8 L708.0 1905.8 L712.0 1905.8 L716.0 1905.9 L720.0 1905.9 L724.0 1905.9 L728.0 1905.9 L732.0 1905.9 L736.0 1905.9 L740.0 1905.9 L744.0 1905.9 L748.0 1905.9 L752.0 1905.9 L756.0 1905.9 L760.0 1905.9 L764.0 1905.9 L768.0 1905.8 L772.0 1905.8 L776.0 1905.8 L780.0 1905.8 L784.0 1905.7 L788.0 1905.7 L792.0 1905.7 L796.0 1905.6 L800.0 1905.6 L804.0 1905.6 L808.0 1905.5 L812.0 1905.5 L816.0 1905.4 L820.0 1905.4 L824.0 1905.3 L828.0 1905.3 L832.0 1905.2 L836.0 1905.2 L840.0 1905.1 L844.0 1905.1 L848.0 1905.0 L852.0 1904.9 L856.0 1904.9 L860.0 1904.8 L864.0 1904.8 L868.0 1904.7 L872.0 1904.6 L876.0 1904.6 L880.0 1904.5 L884.0 1904.4 L888.0 1904.4 L892.0 1904.3 L896.0 1904.2 L900.0 1904.2 L904.0 1904.1 L908.0 1904.0 L912.0 1904.0 L916.0 1903.9 L920.0 1903.8 L924.0 1903.7 L928.0 1903.7 L932.0 1903.6 L936.0 1903.5 L940.0 1903.4 L944.0 1903.3 L948.0 1903.3 L952.0 1903.2 L956.0 1903.1 L960.0 1903.0 L964.0 1902.9 L968.0 1902.9 L972.0 1902.8 L976.0 1902.7 L980.0 1902.6 L984.0 1902.5 L988.0 1902.5 L992.0 1902.4 L996.0 1902.3 L1000.0 1902.2 L1004.0 1902.1 L1008.0 1902.0 L1012.0 1901.9 L1016.0 1901.9 L1020.0 1901.8 L1024.0 1901.7 L1028.0 1901.6 L1032.0 1901.5 L1036.0 1901.4 L1040.0 1901.3 L1044.0 1901.2 L1048.0 1901.2 L1052.0 1901.1 L1056.0 1901.0 L1060.0 1900.9 L1064.0 1900.8 L1068.0 1900.7 L1072.0 1900.6 L1076.0 1900.5 L1080.0 1900.4 L1084.0 1900.3 L1088.0 1900.2 L1092.0 1900.2 L1096.0 1900.1 L1100.0 1900.0 L1104.0 1899.9 L1108.0 1899.8 L1112.0 1899.7 L1116.0 1899.6 L1120.0 1899.5 L1124.0 1899.4 L1128.0 1899.3 L1132.0 1899.2 L1136.0 1899.1 L1140.0 1899.0 L1144.0 1898.9 L1148.0 1898.8 L1152.0 1898.7 L1156.0 1898.6 L1160.0 1898.6 L1164.0 1898.5 L1165.0 1898.4" fill="none" stroke="#ff00ff" stroke-width="6.6" stroke-linejoin="round" stroke-linecap="butt"/>
<rect x="101.00" y="1943.00" width="7.00" height="16.00" fill="#000"/>
<rect x="222.64" y="1943.00" width="7.00" height="16.00" fill="#000"/>
<rect x="344.28" y="1943.00" width="7.00" height="16.00" fill="#000"/>
<rect x="465.92" y="1943.00" width="7.00" height="16.00" fill="#000"/>
<rect x="587.56" y="1943.00" width="7.00" height="16.00" fill="#000"/>
<rect x="709.20" y="1943.00" width="7.00" height="16.00" fill="#000"/>
<rect x="830.84" y="1943.00" width="7.00" height="16.00" fill="#000"/>
<rect x="952.48" y="1943.00" width="7.00" height="16.00" fill="#000"/>
<rect x="1074.12" y="1943.00" width="7.00" height="16.00" fill="#000"/>
<text transform="translate(140.23 1244.33) scale(0.9568 1)" font-size="87.24">(c)</text>
<text transform="translate(505.82 1282.37) scale(0.8662 1)" font-size="44.50">C=N-C</text>
<text transform="translate(535.16 1617.40) scale(0.9078 1)" font-size="42.71">N-(C)</text>
<text transform="translate(628.49 1629.63) scale(0.9701 1)" font-size="27.68">3</text>
<text transform="translate(609.91 1695.86) scale(0.8591 1)" font-size="44.95">C-N-H</text>
<line x1="520.80" y1="1296.60" x2="401.50" y2="1413.51" stroke="#000" stroke-width="5.4" stroke-linecap="round"/>
<polygon points="386.00,1428.70 401.84,1400.57 407.48,1407.65 414.44,1413.43" fill="#000"/>
<line x1="561.20" y1="1633.20" x2="492.03" y2="1688.63" stroke="#000" stroke-width="5.4" stroke-linecap="round"/>
<polygon points="475.10,1702.20 493.66,1675.79 498.56,1683.40 504.92,1689.84" fill="#000"/>
<line x1="629.50" y1="1706.80" x2="560.92" y2="1762.69" stroke="#000" stroke-width="5.4" stroke-linecap="round"/>
<polygon points="544.10,1776.40 562.44,1749.84 567.41,1757.40 573.82,1763.79" fill="#000"/>
<text transform="translate(46.56 1598.66) rotate(-90) scale(1.0395 1)" font-size="52.50">Counts/s</text>
<text transform="translate(67.26 2021.48) scale(0.9164 1)" font-size="53.50">394</text>
<text transform="translate(189.17 2021.48) scale(0.9164 1)" font-size="53.50">396</text>
<text transform="translate(310.90 2021.48) scale(0.9164 1)" font-size="53.50">398</text>
<text transform="translate(433.25 2021.48) scale(0.9164 1)" font-size="53.50">400</text>
<text transform="translate(555.01 2021.48) scale(0.9164 1)" font-size="53.50">402</text>
<text transform="translate(676.05 2021.48) scale(0.9164 1)" font-size="53.50">404</text>
<text transform="translate(797.95 2021.48) scale(0.9164 1)" font-size="53.50">406</text>
<text transform="translate(919.69 2021.48) scale(0.9164 1)" font-size="53.50">408</text>
<text transform="translate(1041.45 2021.48) scale(0.9164 1)" font-size="53.50">410</text>
<text transform="translate(356.69 2076.60) scale(0.8875 1)" font-size="54.83">Binding Energy (eV)</text>
<rect x="1298.50" y="1064.50" width="1094.50" height="896.50" fill="none" stroke="#000" stroke-width="7.0"/>
<path d="M1302.0 1878.7 L1309.0 1874.0 L1317.0 1871.3 L1330.0 1873.0 L1344.1 1870.1 L1352.0 1866.0 L1360.0 1868.0 L1372.0 1864.0 L1385.9 1864.0 L1393.0 1860.0 L1400.0 1866.0 L1410.0 1862.0 L1425.2 1859.0 L1433.0 1856.0 L1440.0 1857.0 L1447.0 1852.0 L1454.6 1851.7 L1462.0 1848.0 L1471.8 1843.1 L1478.0 1842.0 L1486.5 1837.0 L1495.0 1825.0 L1503.7 1803.8 L1516.0 1779.3 L1530.8 1730.1 L1540.6 1681.0 L1550.4 1607.3 L1560.2 1533.7 L1568.7 1470.0 L1573.8 1412.8 L1580.5 1354.2 L1587.1 1303.9 L1595.5 1240.3 L1598.0 1221.9 L1614.8 1190.0 L1624.0 1245.3 L1630.7 1287.2 L1636.5 1337.4 L1643.2 1387.6 L1649.1 1421.1 L1653.3 1470.0 L1663.4 1533.7 L1678.1 1681.0 L1687.9 1730.1 L1700.2 1786.6 L1712.5 1816.1 L1720.0 1830.0 L1727.2 1843.1 L1735.0 1848.0 L1744.4 1850.5 L1754.2 1857.8 L1770.0 1860.0 L1786.2 1862.7 L1790.0 1868.1 L1797.5 1870.9 L1805.0 1870.5 L1812.5 1866.6 L1820.0 1867.0 L1827.5 1866.4 L1835.0 1868.7 L1842.5 1867.2 L1850.0 1868.9 L1857.5 1863.1 L1865.0 1870.5 L1872.5 1866.7 L1880.0 1868.3 L1887.5 1866.4 L1895.0 1865.8 L1902.5 1867.6 L1910.0 1868.3 L1917.5 1865.9 L1925.0 1865.9 L1932.5 1867.6 L1940.0 1864.1 L1947.5 1862.6 L1955.0 1866.7 L1962.5 1864.3 L1970.0 1861.4 L1977.5 1863.7 L1985.0 1864.4 L1992.5 1862.7 L2000.0 1862.0 L2007.5 1865.2 L2015.0 1867.0 L2022.5 1864.4 L2030.0 1863.2 L2037.5 1865.6 L2045.0 1866.2 L2052.5 1863.9 L2060.0 1865.6 L2067.5 1866.6 L2075.0 1863.8 L2082.5 1862.3 L2090.0 1864.8 L2097.5 1864.5 L2105.0 1866.2 L2112.5 1860.9 L2120.0 1862.2 L2127.5 1858.7 L2135.0 1853.7 L2142.5 1855.5 L2150.0 1855.4 L2157.5 1851.6 L2165.0 1855.3 L2172.5 1853.1 L2180.0 1852.0 L2187.5 1850.9 L2195.0 1851.5 L2202.5 1845.8 L2210.0 1849.2 L2217.5 1848.4 L2225.0 1842.3 L2232.5 1846.1 L2240.0 1844.0 L2247.5 1845.4 L2255.0 1843.5 L2262.5 1845.2 L2270.0 1846.8 L2277.5 1843.5 L2285.0 1846.1 L2292.5 1844.0 L2300.0 1844.8 L2307.5 1842.7 L2315.0 1846.3 L2322.5 1844.7 L2330.0 1841.3 L2337.5 1841.3 L2345.0 1840.9 L2352.5 1840.3 L2360.0 1832.7 L2367.5 1838.1 L2375.0 1837.2 L2382.5 1836.0 L2390.0 1836.2" fill="none" stroke="#000000" stroke-width="7.0" stroke-linejoin="round" stroke-linecap="butt"/>
<path d="M1302.0 1878.8 L1500.0 1877.2 L1600.0 1876.4 L1700.0 1875.0 L1780.0 1873.0 L2390.0 1861.2" fill="none" stroke="#0000ff" stroke-width="7.0" stroke-linejoin="round" stroke-linecap="butt"/>
<path d="M1302.0 1878.3 L1420.0 1876.8 L1500.0 1874.2 L1560.0 1872.4 L1600.0 1871.7 L1700.0 1870.7 L1780.0 1869.5 L2390.0 1860.6" fill="none" stroke="#0000ff" stroke-width="7.0" stroke-linejoin="round" stroke-linecap="butt"/>
<path d="M1302.0 1878.4 L1306.0 1878.4 L1310.0 1878.3 L1314.0 1878.3 L1318.0 1878.2 L1322.0 1878.2 L1326.0 1878.1 L1330.0 1878.1 L1334.0 1878.0 L1338.0 1878.0 L1342.0 1877.9 L1346.0 1877.9 L1350.0 1877.8 L1354.0 1877.8 L1358.0 1877.7 L1362.0 1877.7 L1366.0 1877.6 L1370.0 1877.6 L1374.0 1877.5 L1378.0 1877.4 L1382.0 1877.4 L1386.0 1877.3 L1390.0 1877.3 L1394.0 1877.2 L1398.0 1877.1 L1402.0 1877.1 L1406.0 1877.0 L1410.0 1876.9 L1414.0 1876.8 L1418.0 1876.7 L1422.0 1876.7 L1426.0 1876.6 L1430.0 1876.5 L1434.0 1876.4 L1438.0 1876.3 L1442.0 1876.2 L1446.0 1876.1 L1450.0 1876.0 L1451.0 1875.9 L1452.0 1875.9 L1453.0 1875.9 L1454.0 1875.8 L1455.0 1875.8 L1456.0 1875.8 L1457.0 1875.7 L1458.0 1875.7 L1459.0 1875.7 L1460.0 1875.6 L1461.0 1875.6 L1462.0 1875.6 L1463.0 1875.5 L1464.0 1875.5 L1465.0 1875.5 L1466.0 1875.4 L1467.0 1875.4 L1468.0 1875.4 L1469.0 1875.3 L1470.0 1875.3 L1471.0 1875.2 L1472.0 1875.2 L1473.0 1875.2 L1474.0 1875.1 L1475.0 1875.1 L1476.0 1875.0 L1477.0 1875.0 L1478.0 1874.9 L1479.0 1874.9 L1480.0 1874.9 L1481.0 1874.8 L1482.0 1874.8 L1483.0 1874.7 L1484.0 1874.7 L1485.0 1874.6 L1486.0 1874.6 L1487.0 1874.5 L1488.0 1874.5 L1489.0 1874.4 L1490.0 1874.3 L1491.0 1874.3 L1492.0 1874.2 L1493.0 1874.2 L1494.0 1874.1 L1495.0 1874.1 L1496.0 1874.0 L1497.0 1873.9 L1498.0 1873.9 L1499.0 1873.8 L1500.0 1873.7 L1501.0 1873.7 L1502.0 1873.6 L1503.0 1873.5 L1504.0 1873.5 L1505.0 1873.4 L1506.0 1873.3 L1507.0 1873.2 L1508.0 1873.1 L1509.0 1873.1 L1510.0 1873.0 L1511.0 1872.9 L1512.0 1872.8 L1513.0 1872.7 L1514.0 1872.6 L1515.0 1872.5 L1516.0 1872.4 L1517.0 1872.4 L1518.0 1872.3 L1519.0 1872.2 L1520.0 1872.0 L1521.0 1871.9 L1522.0 1871.8 L1523.0 1871.7 L1524.0 1871.6 L1525.0 1871.5 L1526.0 1871.4 L1527.0 1871.2 L1528.0 1871.1 L1529.0 1871.0 L1530.0 1870.9 L1531.0 1870.7 L1532.0 1870.6 L1533.0 1870.4 L1534.0 1870.3 L1535.0 1870.1 L1536.0 1870.0 L1537.0 1869.8 L1538.0 1869.6 L1539.0 1869.5 L1540.0 1869.3 L1541.0 1869.1 L1542.0 1868.9 L1543.0 1868.7 L1544.0 1868.5 L1545.0 1868.3 L1546.0 1868.1 L1547.0 1867.9 L1548.0 1867.7 L1549.0 1867.4 L1550.0 1867.2 L1551.0 1866.9 L1552.0 1866.7 L1553.0 1866.4 L1554.0 1866.2 L1555.0 1865.9 L1556.0 1865.6 L1557.0 1865.3 L1558.0 1865.0 L1559.0 1864.6 L1560.0 1864.3 L1561.0 1864.0 L1562.0 1863.6 L1563.0 1863.2 L1564.0 1862.8 L1565.0 1862.5 L1566.0 1862.0 L1567.0 1861.6 L1568.0 1861.2 L1569.0 1860.7 L1570.0 1860.2 L1571.0 1859.7 L1572.0 1859.2 L1573.0 1858.7 L1574.0 1858.1 L1575.0 1857.5 L1576.0 1856.9 L1577.0 1856.3 L1578.0 1855.6 L1579.0 1854.9 L1580.0 1854.2 L1581.0 1853.5 L1582.0 1852.7 L1583.0 1851.9 L1584.0 1851.0 L1585.0 1850.1 L1586.0 1849.2 L1587.0 1848.3 L1588.0 1847.2 L1589.0 1846.2 L1590.0 1845.1 L1591.0 1843.9 L1592.0 1842.7 L1593.0 1841.4 L1594.0 1840.1 L1595.0 1838.7 L1596.0 1837.3 L1597.0 1835.7 L1598.0 1834.1 L1599.0 1832.4 L1600.0 1830.7 L1601.0 1828.8 L1602.0 1826.8 L1603.0 1824.8 L1604.0 1822.6 L1605.0 1820.3 L1606.0 1817.9 L1607.0 1815.4 L1608.0 1812.8 L1609.0 1810.0 L1610.0 1807.0 L1611.0 1804.0 L1612.0 1800.7 L1613.0 1797.3 L1614.0 1793.8 L1615.0 1790.0 L1616.0 1786.1 L1617.0 1781.9 L1618.0 1777.6 L1619.0 1773.0 L1620.0 1768.2 L1621.0 1763.3 L1622.0 1758.0 L1623.0 1752.6 L1624.0 1746.9 L1625.0 1741.0 L1626.0 1734.9 L1627.0 1728.5 L1628.0 1722.0 L1629.0 1715.2 L1630.0 1708.3 L1631.0 1701.2 L1632.0 1694.0 L1633.0 1686.6 L1634.0 1679.2 L1635.0 1671.8 L1636.0 1664.4 L1637.0 1657.2 L1638.0 1650.0 L1639.0 1643.1 L1640.0 1636.4 L1641.0 1630.1 L1642.0 1624.2 L1643.0 1618.8 L1644.0 1614.0 L1645.0 1609.9 L1646.0 1606.4 L1647.0 1603.7 L1648.0 1601.7 L1649.0 1600.6 L1650.0 1600.3 L1651.0 1600.9 L1652.0 1602.3 L1653.0 1604.5 L1654.0 1607.4 L1655.0 1611.1 L1656.0 1615.5 L1657.0 1620.5 L1658.0 1626.1 L1659.0 1632.1 L1660.0 1638.5 L1661.0 1645.2 L1662.0 1652.2 L1663.0 1659.4 L1664.0 1666.7 L1665.0 1674.1 L1666.0 1681.4 L1667.0 1688.8 L1668.0 1696.1 L1669.0 1703.2 L1670.0 1710.2 L1671.0 1717.1 L1672.0 1723.7 L1673.0 1730.2 L1674.0 1736.4 L1675.0 1742.5 L1676.0 1748.3 L1677.0 1753.8 L1678.0 1759.2 L1679.0 1764.3 L1680.0 1769.1 L1681.0 1773.8 L1682.0 1778.3 L1683.0 1782.5 L1684.0 1786.5 L1685.0 1790.4 L1686.0 1794.1 L1687.0 1797.5 L1688.0 1800.9 L1689.0 1804.0 L1690.0 1807.0 L1691.0 1809.8 L1692.0 1812.5 L1693.0 1815.1 L1694.0 1817.6 L1695.0 1819.9 L1696.0 1822.1 L1697.0 1824.2 L1698.0 1826.2 L1699.0 1828.1 L1700.0 1829.9 L1701.0 1831.6 L1702.0 1833.2 L1703.0 1834.8 L1704.0 1836.3 L1705.0 1837.7 L1706.0 1839.0 L1707.0 1840.3 L1708.0 1841.5 L1709.0 1842.6 L1710.0 1843.8 L1711.0 1844.8 L1712.0 1845.8 L1713.0 1846.8 L1714.0 1847.7 L1715.0 1848.6 L1716.0 1849.4 L1717.0 1850.2 L1718.0 1851.0 L1719.0 1851.7 L1720.0 1852.4 L1721.0 1853.1 L1722.0 1853.7 L1723.0 1854.3 L1724.0 1854.9 L1725.0 1855.5 L1726.0 1856.0 L1727.0 1856.6 L1728.0 1857.1 L1729.0 1857.5 L1730.0 1858.0 L1731.0 1858.4 L1732.0 1858.9 L1733.0 1859.3 L1734.0 1859.7 L1735.0 1860.0 L1736.0 1860.4 L1737.0 1860.7 L1738.0 1861.1 L1739.0 1861.4 L1740.0 1861.7 L1741.0 1862.0 L1742.0 1862.3 L1743.0 1862.6 L1744.0 1862.8 L1745.0 1863.1 L1746.0 1863.3 L1747.0 1863.6 L1748.0 1863.8 L1749.0 1864.0 L1750.0 1864.2 L1751.0 1864.4 L1752.0 1864.6 L1753.0 1864.8 L1754.0 1865.0 L1755.0 1865.2 L1756.0 1865.3 L1757.0 1865.5 L1758.0 1865.7 L1759.0 1865.8 L1760.0 1866.0 L1761.0 1866.1 L1762.0 1866.2 L1763.0 1866.4 L1764.0 1866.5 L1765.0 1866.6 L1766.0 1866.7 L1767.0 1866.9 L1768.0 1867.0 L1769.0 1867.1 L1770.0 1867.2 L1771.0 1867.3 L1772.0 1867.4 L1773.0 1867.5 L1774.0 1867.6 L1775.0 1867.7 L1776.0 1867.7 L1777.0 1867.8 L1778.0 1867.9 L1779.0 1868.0 L1780.0 1868.0 L1781.0 1868.1 L1782.0 1868.2 L1783.0 1868.3 L1784.0 1868.3 L1785.0 1868.4 L1786.0 1868.5 L1787.0 1868.5 L1788.0 1868.6 L1789.0 1868.6 L1790.0 1868.7 L1791.0 1868.8 L1792.0 1868.8 L1793.0 1868.9 L1794.0 1868.9 L1795.0 1869.0 L1796.0 1869.0 L1797.0 1869.0 L1798.0 1869.1 L1799.0 1869.1 L1800.0 1869.2 L1804.0 1869.3 L1808.0 1869.4 L1812.0 1869.6 L1816.0 1869.6 L1820.0 1869.7 L1824.0 1869.8 L1828.0 1869.9 L1832.0 1869.9 L1836.0 1869.9 L1840.0 1870.0 L1844.0 1870.0 L1848.0 1870.0 L1852.0 1870.0 L1856.0 1870.0 L1860.0 1870.0 L1864.0 1870.0 L1868.0 1870.0 L1872.0 1870.0 L1876.0 1870.0 L1880.0 1869.9 L1884.0 1869.9 L1888.0 1869.9 L1892.0 1869.8 L1896.0 1869.8 L1900.0 1869.8 L1904.0 1869.7 L1908.0 1869.7 L1912.0 1869.6 L1916.0 1869.6 L1920.0 1869.5 L1924.0 1869.5 L1928.0 1869.4 L1932.0 1869.4 L1936.0 1869.3 L1940.0 1869.3 L1944.0 1869.2 L1948.0 1869.2 L1952.0 1869.1 L1956.0 1869.1 L1960.0 1869.0 L1964.0 1868.9 L1968.0 1868.9 L1972.0 1868.8 L1976.0 1868.8 L1980.0 1868.7 L1984.0 1868.6 L1988.0 1868.6 L1992.0 1868.5 L1996.0 1868.4 L2000.0 1868.4 L2004.0 1868.3 L2008.0 1868.2 L2012.0 1868.2 L2016.0 1868.1 L2020.0 1868.0 L2024.0 1868.0 L2028.0 1867.9 L2032.0 1867.8 L2036.0 1867.8 L2040.0 1867.7 L2044.0 1867.6 L2048.0 1867.5 L2052.0 1867.5 L2056.0 1867.4 L2060.0 1867.3 L2064.0 1867.3 L2068.0 1867.2 L2072.0 1867.1 L2076.0 1867.0 L2080.0 1867.0 L2084.0 1866.9 L2088.0 1866.8 L2092.0 1866.8 L2096.0 1866.7 L2100.0 1866.6 L2104.0 1866.5 L2108.0 1866.5 L2112.0 1866.4 L2116.0 1866.3 L2120.0 1866.2 L2124.0 1866.2 L2128.0 1866.1 L2132.0 1866.0 L2136.0 1866.0 L2140.0 1865.9 L2144.0 1865.8 L2148.0 1865.7 L2152.0 1865.7 L2156.0 1865.6 L2160.0 1865.5 L2164.0 1865.4 L2168.0 1865.4 L2172.0 1865.3 L2176.0 1865.2 L2180.0 1865.1 L2184.0 1865.1 L2188.0 1865.0 L2192.0 1864.9 L2196.0 1864.8 L2200.0 1864.8 L2204.0 1864.7 L2208.0 1864.6 L2212.0 1864.5 L2216.0 1864.5 L2220.0 1864.4 L2224.0 1864.3 L2228.0 1864.2 L2232.0 1864.2 L2236.0 1864.1 L2240.0 1864.0 L2244.0 1863.9 L2248.0 1863.9 L2252.0 1863.8 L2256.0 1863.7 L2260.0 1863.6 L2264.0 1863.6 L2268.0 1863.5 L2272.0 1863.4 L2276.0 1863.3 L2280.0 1863.2 L2284.0 1863.2 L2288.0 1863.1 L2292.0 1863.0 L2296.0 1862.9 L2300.0 1862.9 L2304.0 1862.8 L2308.0 1862.7 L2312.0 1862.6 L2316.0 1862.6 L2320.0 1862.5 L2324.0 1862.4 L2328.0 1862.3 L2332.0 1862.3 L2336.0 1862.2 L2340.0 1862.1 L2344.0 1862.0 L2348.0 1862.0 L2352.0 1861.9 L2356.0 1861.8 L2360.0 1861.7 L2364.0 1861.6 L2368.0 1861.6 L2372.0 1861.5 L2376.0 1861.4 L2380.0 1861.3 L2384.0 1861.3 L2388.0 1861.2 L2390.0 1861.1" fill="none" stroke="#ff00ff" stroke-width="6.6" stroke-linejoin="round" stroke-linecap="butt"/>
<path d="M1302.0 1877.6 L1306.0 1877.5 L1310.0 1877.4 L1314.0 1877.3 L1318.0 1877.3 L1322.0 1877.2 L1326.0 1877.1 L1330.0 1877.0 L1334.0 1876.9 L1338.0 1876.8 L1342.0 1876.7 L1346.0 1876.6 L1350.0 1876.5 L1354.0 1876.4 L1358.0 1876.3 L1362.0 1876.2 L1366.0 1876.1 L1370.0 1876.0 L1374.0 1875.8 L1378.0 1875.7 L1382.0 1875.6 L1386.0 1875.4 L1390.0 1875.3 L1394.0 1875.1 L1398.0 1874.9 L1402.0 1874.8 L1406.0 1874.6 L1410.0 1874.4 L1414.0 1874.2 L1418.0 1873.9 L1422.0 1873.7 L1426.0 1873.4 L1430.0 1873.2 L1434.0 1872.9 L1438.0 1872.6 L1442.0 1872.3 L1446.0 1871.9 L1450.0 1871.5 L1451.0 1871.4 L1452.0 1871.3 L1453.0 1871.2 L1454.0 1871.1 L1455.0 1871.0 L1456.0 1870.9 L1457.0 1870.8 L1458.0 1870.7 L1459.0 1870.6 L1460.0 1870.4 L1461.0 1870.3 L1462.0 1870.2 L1463.0 1870.1 L1464.0 1870.0 L1465.0 1869.8 L1466.0 1869.7 L1467.0 1869.5 L1468.0 1869.4 L1469.0 1869.3 L1470.0 1869.1 L1471.0 1869.0 L1472.0 1868.8 L1473.0 1868.7 L1474.0 1868.5 L1475.0 1868.3 L1476.0 1868.2 L1477.0 1868.0 L1478.0 1867.8 L1479.0 1867.6 L1480.0 1867.5 L1481.0 1867.3 L1482.0 1867.1 L1483.0 1866.9 L1484.0 1866.7 L1485.0 1866.5 L1486.0 1866.3 L1487.0 1866.0 L1488.0 1865.8 L1489.0 1865.6 L1490.0 1865.4 L1491.0 1865.1 L1492.0 1864.9 L1493.0 1864.6 L1494.0 1864.4 L1495.0 1864.1 L1496.0 1863.8 L1497.0 1863.5 L1498.0 1863.2 L1499.0 1863.0 L1500.0 1862.6 L1501.0 1862.3 L1502.0 1862.0 L1503.0 1861.7 L1504.0 1861.3 L1505.0 1861.0 L1506.0 1860.6 L1507.0 1860.2 L1508.0 1859.9 L1509.0 1859.5 L1510.0 1859.1 L1511.0 1858.6 L1512.0 1858.2 L1513.0 1857.8 L1514.0 1857.3 L1515.0 1856.8 L1516.0 1856.3 L1517.0 1855.8 L1518.0 1855.3 L1519.0 1854.8 L1520.0 1854.2 L1521.0 1853.6 L1522.0 1853.0 L1523.0 1852.4 L1524.0 1851.8 L1525.0 1851.1 L1526.0 1850.4 L1527.0 1849.7 L1528.0 1849.0 L1529.0 1848.2 L1530.0 1847.4 L1531.0 1846.6 L1532.0 1845.8 L1533.0 1844.9 L1534.0 1844.0 L1535.0 1843.0 L1536.0 1842.0 L1537.0 1841.0 L1538.0 1840.0 L1539.0 1838.9 L1540.0 1837.7 L1541.0 1836.5 L1542.0 1835.3 L1543.0 1834.0 L1544.0 1832.6 L1545.0 1831.2 L1546.0 1829.8 L1547.0 1828.3 L1548.0 1826.7 L1549.0 1825.0 L1550.0 1823.3 L1551.0 1821.5 L1552.0 1819.6 L1553.0 1817.6 L1554.0 1815.6 L1555.0 1813.4 L1556.0 1811.1 L1557.0 1808.8 L1558.0 1806.3 L1559.0 1803.7 L1560.0 1801.0 L1561.0 1798.2 L1562.0 1795.2 L1563.0 1792.1 L1564.0 1788.8 L1565.0 1785.4 L1566.0 1781.8 L1567.0 1778.0 L1568.0 1774.0 L1569.0 1769.8 L1570.0 1765.4 L1571.0 1760.8 L1572.0 1756.0 L1573.0 1750.9 L1574.0 1745.5 L1575.0 1739.9 L1576.0 1734.0 L1577.0 1727.7 L1578.0 1721.2 L1579.0 1714.4 L1580.0 1707.2 L1581.0 1699.6 L1582.0 1691.7 L1583.0 1683.4 L1584.0 1674.7 L1585.0 1665.6 L1586.0 1656.1 L1587.0 1646.2 L1588.0 1635.9 L1589.0 1625.2 L1590.0 1614.0 L1591.0 1602.5 L1592.0 1590.6 L1593.0 1578.4 L1594.0 1565.8 L1595.0 1553.0 L1596.0 1540.0 L1597.0 1526.8 L1598.0 1513.5 L1599.0 1500.2 L1600.0 1487.0 L1601.0 1474.0 L1602.0 1461.3 L1603.0 1449.1 L1604.0 1437.4 L1605.0 1426.4 L1606.0 1416.3 L1607.0 1407.2 L1608.0 1399.1 L1609.0 1392.3 L1610.0 1386.9 L1611.0 1382.8 L1612.0 1380.2 L1613.0 1379.1 L1614.0 1379.6 L1615.0 1381.6 L1616.0 1385.1 L1617.0 1390.1 L1618.0 1396.4 L1619.0 1404.0 L1620.0 1412.7 L1621.0 1422.5 L1622.0 1433.1 L1623.0 1444.5 L1624.0 1456.5 L1625.0 1469.0 L1626.0 1481.9 L1627.0 1495.0 L1628.0 1508.3 L1629.0 1521.5 L1630.0 1534.8 L1631.0 1547.9 L1632.0 1560.7 L1633.0 1573.4 L1634.0 1585.7 L1635.0 1597.7 L1636.0 1609.4 L1637.0 1620.6 L1638.0 1631.5 L1639.0 1641.9 L1640.0 1651.9 L1641.0 1661.6 L1642.0 1670.8 L1643.0 1679.6 L1644.0 1688.0 L1645.0 1696.0 L1646.0 1703.7 L1647.0 1711.0 L1648.0 1717.9 L1649.0 1724.6 L1650.0 1730.9 L1651.0 1736.9 L1652.0 1742.6 L1653.0 1748.0 L1654.0 1753.2 L1655.0 1758.1 L1656.0 1762.8 L1657.0 1767.2 L1658.0 1771.4 L1659.0 1775.5 L1660.0 1779.3 L1661.0 1783.0 L1662.0 1786.4 L1663.0 1789.7 L1664.0 1792.9 L1665.0 1795.9 L1666.0 1798.8 L1667.0 1801.5 L1668.0 1804.1 L1669.0 1806.6 L1670.0 1809.0 L1671.0 1811.3 L1672.0 1813.4 L1673.0 1815.5 L1674.0 1817.5 L1675.0 1819.4 L1676.0 1821.2 L1677.0 1822.9 L1678.0 1824.6 L1679.0 1826.2 L1680.0 1827.7 L1681.0 1829.2 L1682.0 1830.6 L1683.0 1831.9 L1684.0 1833.2 L1685.0 1834.4 L1686.0 1835.6 L1687.0 1836.8 L1688.0 1837.9 L1689.0 1838.9 L1690.0 1839.9 L1691.0 1840.9 L1692.0 1841.8 L1693.0 1842.7 L1694.0 1843.6 L1695.0 1844.4 L1696.0 1845.2 L1697.0 1846.0 L1698.0 1846.8 L1699.0 1847.5 L1700.0 1848.2 L1701.0 1848.8 L1702.0 1849.5 L1703.0 1850.1 L1704.0 1850.7 L1705.0 1851.3 L1706.0 1851.8 L1707.0 1852.3 L1708.0 1852.9 L1709.0 1853.3 L1710.0 1853.8 L1711.0 1854.3 L1712.0 1854.7 L1713.0 1855.2 L1714.0 1855.6 L1715.0 1856.0 L1716.0 1856.4 L1717.0 1856.8 L1718.0 1857.1 L1719.0 1857.5 L1720.0 1857.8 L1721.0 1858.2 L1722.0 1858.5 L1723.0 1858.8 L1724.0 1859.1 L1725.0 1859.4 L1726.0 1859.7 L1727.0 1860.0 L1728.0 1860.2 L1729.0 1860.5 L1730.0 1860.7 L1731.0 1861.0 L1732.0 1861.2 L1733.0 1861.5 L1734.0 1861.7 L1735.0 1861.9 L1736.0 1862.1 L1737.0 1862.3 L1738.0 1862.5 L1739.0 1862.7 L1740.0 1862.9 L1741.0 1863.1 L1742.0 1863.2 L1743.0 1863.4 L1744.0 1863.6 L1745.0 1863.7 L1746.0 1863.9 L1747.0 1864.0 L1748.0 1864.2 L1749.0 1864.3 L1750.0 1864.5 L1751.0 1864.6 L1752.0 1864.7 L1753.0 1864.9 L1754.0 1865.0 L1755.0 1865.1 L1756.0 1865.2 L1757.0 1865.3 L1758.0 1865.5 L1759.0 1865.6 L1760.0 1865.7 L1761.0 1865.8 L1762.0 1865.9 L1763.0 1866.0 L1764.0 1866.1 L1765.0 1866.1 L1766.0 1866.2 L1767.0 1866.3 L1768.0 1866.4 L1769.0 1866.5 L1770.0 1866.6 L1771.0 1866.6 L1772.0 1866.7 L1773.0 1866.8 L1774.0 1866.9 L1775.0 1866.9 L1776.0 1867.0 L1777.0 1867.1 L1778.0 1867.1 L1779.0 1867.2 L1780.0 1867.2 L1781.0 1867.3 L1782.0 1867.4 L1783.0 1867.4 L1784.0 1867.5 L1785.0 1867.5 L1786.0 1867.6 L1787.0 1867.7 L1788.0 1867.7 L1789.0 1867.8 L1790.0 1867.8 L1791.0 1867.9 L1792.0 1867.9 L1793.0 1868.0 L1794.0 1868.0 L1795.0 1868.0 L1796.0 1868.1 L1797.0 1868.1 L1798.0 1868.2 L1799.0 1868.2 L1800.0 1868.2 L1804.0 1868.4 L1808.0 1868.5 L1812.0 1868.6 L1816.0 1868.7 L1820.0 1868.8 L1824.0 1868.9 L1828.0 1869.0 L1832.0 1869.0 L1836.0 1869.1 L1840.0 1869.1 L1844.0 1869.2 L1848.0 1869.2 L1852.0 1869.2 L1856.0 1869.2 L1860.0 1869.2 L1864.0 1869.3 L1868.0 1869.3 L1872.0 1869.3 L1876.0 1869.3 L1880.0 1869.2 L1884.0 1869.2 L1888.0 1869.2 L1892.0 1869.2 L1896.0 1869.2 L1900.0 1869.2 L1904.0 1869.1 L1908.0 1869.1 L1912.0 1869.1 L1916.0 1869.0 L1920.0 1869.0 L1924.0 1869.0 L1928.0 1868.9 L1932.0 1868.9 L1936.0 1868.8 L1940.0 1868.8 L1944.0 1868.8 L1948.0 1868.7 L1952.0 1868.7 L1956.0 1868.6 L1960.0 1868.6 L1964.0 1868.5 L1968.0 1868.5 L1972.0 1868.4 L1976.0 1868.4 L1980.0 1868.3 L1984.0 1868.2 L1988.0 1868.2 L1992.0 1868.1 L1996.0 1868.1 L2000.0 1868.0 L2004.0 1868.0 L2008.0 1867.9 L2012.0 1867.8 L2016.0 1867.8 L2020.0 1867.7 L2024.0 1867.7 L2028.0 1867.6 L2032.0 1867.5 L2036.0 1867.5 L2040.0 1867.4 L2044.0 1867.3 L2048.0 1867.3 L2052.0 1867.2 L2056.0 1867.1 L2060.0 1867.1 L2064.0 1867.0 L2068.0 1866.9 L2072.0 1866.9 L2076.0 1866.8 L2080.0 1866.7 L2084.0 1866.7 L2088.0 1866.6 L2092.0 1866.5 L2096.0 1866.5 L2100.0 1866.4 L2104.0 1866.3 L2108.0 1866.3 L2112.0 1866.2 L2116.0 1866.1 L2120.0 1866.1 L2124.0 1866.0 L2128.0 1865.9 L2132.0 1865.8 L2136.0 1865.8 L2140.0 1865.7 L2144.0 1865.6 L2148.0 1865.6 L2152.0 1865.5 L2156.0 1865.4 L2160.0 1865.3 L2164.0 1865.3 L2168.0 1865.2 L2172.0 1865.1 L2176.0 1865.1 L2180.0 1865.0 L2184.0 1864.9 L2188.0 1864.8 L2192.0 1864.8 L2196.0 1864.7 L2200.0 1864.6 L2204.0 1864.5 L2208.0 1864.5 L2212.0 1864.4 L2216.0 1864.3 L2220.0 1864.3 L2224.0 1864.2 L2228.0 1864.1 L2232.0 1864.0 L2236.0 1864.0 L2240.0 1863.9 L2244.0 1863.8 L2248.0 1863.7 L2252.0 1863.7 L2256.0 1863.6 L2260.0 1863.5 L2264.0 1863.4 L2268.0 1863.4 L2272.0 1863.3 L2276.0 1863.2 L2280.0 1863.1 L2284.0 1863.1 L2288.0 1863.0 L2292.0 1862.9 L2296.0 1862.8 L2300.0 1862.8 L2304.0 1862.7 L2308.0 1862.6 L2312.0 1862.5 L2316.0 1862.5 L2320.0 1862.4 L2324.0 1862.3 L2328.0 1862.2 L2332.0 1862.2 L2336.0 1862.1 L2340.0 1862.0 L2344.0 1861.9 L2348.0 1861.9 L2352.0 1861.8 L2356.0 1861.7 L2360.0 1861.6 L2364.0 1861.6 L2368.0 1861.5 L2372.0 1861.4 L2376.0 1861.3 L2380.0 1861.3 L2384.0 1861.2 L2388.0 1861.1 L2390.0 1861.1" fill="none" stroke="#008080" stroke-width="6.6" stroke-linejoin="round" stroke-linecap="butt"/>
<path d="M1302.0 1872.5 L1306.0 1872.4 L1310.0 1872.3 L1314.0 1872.2 L1318.0 1872.1 L1322.0 1872.0 L1326.0 1871.9 L1330.0 1871.7 L1334.0 1871.6 L1338.0 1871.5 L1342.0 1871.4 L1346.0 1871.2 L1350.0 1871.1 L1354.0 1870.9 L1358.0 1870.8 L1362.0 1870.6 L1366.0 1870.5 L1370.0 1870.3 L1374.0 1870.1 L1378.0 1869.9 L1382.0 1869.8 L1386.0 1869.6 L1390.0 1869.4 L1394.0 1869.1 L1398.0 1868.9 L1402.0 1868.7 L1406.0 1868.4 L1410.0 1868.2 L1414.0 1867.9 L1418.0 1867.6 L1422.0 1867.3 L1426.0 1866.9 L1430.0 1866.6 L1434.0 1866.2 L1438.0 1865.8 L1442.0 1865.4 L1446.0 1864.9 L1450.0 1864.4 L1451.0 1864.2 L1452.0 1864.1 L1453.0 1863.9 L1454.0 1863.8 L1455.0 1863.7 L1456.0 1863.5 L1457.0 1863.3 L1458.0 1863.2 L1459.0 1863.0 L1460.0 1862.8 L1461.0 1862.7 L1462.0 1862.5 L1463.0 1862.3 L1464.0 1862.1 L1465.0 1861.9 L1466.0 1861.7 L1467.0 1861.5 L1468.0 1861.3 L1469.0 1861.1 L1470.0 1860.8 L1471.0 1860.6 L1472.0 1860.3 L1473.0 1860.1 L1474.0 1859.8 L1475.0 1859.5 L1476.0 1859.2 L1477.0 1858.9 L1478.0 1858.6 L1479.0 1858.2 L1480.0 1857.9 L1481.0 1857.5 L1482.0 1857.1 L1483.0 1856.7 L1484.0 1856.3 L1485.0 1855.8 L1486.0 1855.3 L1487.0 1854.8 L1488.0 1854.3 L1489.0 1853.7 L1490.0 1853.1 L1491.0 1852.5 L1492.0 1851.8 L1493.0 1851.1 L1494.0 1850.3 L1495.0 1849.5 L1496.0 1848.7 L1497.0 1847.8 L1498.0 1846.8 L1499.0 1845.8 L1500.0 1844.7 L1501.0 1843.6 L1502.0 1842.4 L1503.0 1841.2 L1504.0 1839.8 L1505.0 1838.4 L1506.0 1836.9 L1507.0 1835.3 L1508.0 1833.7 L1509.0 1831.9 L1510.0 1830.1 L1511.0 1828.1 L1512.0 1826.1 L1513.0 1823.9 L1514.0 1821.6 L1515.0 1819.3 L1516.0 1816.8 L1517.0 1814.1 L1518.0 1811.4 L1519.0 1808.5 L1520.0 1805.5 L1521.0 1802.4 L1522.0 1799.1 L1523.0 1795.7 L1524.0 1792.1 L1525.0 1788.4 L1526.0 1784.6 L1527.0 1780.6 L1528.0 1776.5 L1529.0 1772.2 L1530.0 1767.8 L1531.0 1763.2 L1532.0 1758.5 L1533.0 1753.7 L1534.0 1748.7 L1535.0 1743.6 L1536.0 1738.4 L1537.0 1733.0 L1538.0 1727.5 L1539.0 1721.9 L1540.0 1716.2 L1541.0 1710.3 L1542.0 1704.4 L1543.0 1698.4 L1544.0 1692.3 L1545.0 1686.2 L1546.0 1680.0 L1547.0 1673.7 L1548.0 1667.4 L1549.0 1661.1 L1550.0 1654.8 L1551.0 1648.5 L1552.0 1642.2 L1553.0 1636.0 L1554.0 1629.8 L1555.0 1623.7 L1556.0 1617.7 L1557.0 1611.8 L1558.0 1606.0 L1559.0 1600.4 L1560.0 1595.0 L1561.0 1589.7 L1562.0 1584.7 L1563.0 1579.9 L1564.0 1575.4 L1565.0 1571.2 L1566.0 1567.3 L1567.0 1563.8 L1568.0 1560.6 L1569.0 1557.7 L1570.0 1555.2 L1571.0 1553.2 L1572.0 1551.5 L1573.0 1550.3 L1574.0 1549.5 L1575.0 1549.2 L1576.0 1549.2 L1577.0 1549.7 L1578.0 1550.7 L1579.0 1552.1 L1580.0 1553.9 L1581.0 1556.1 L1582.0 1558.7 L1583.0 1561.7 L1584.0 1565.0 L1585.0 1568.7 L1586.0 1572.7 L1587.0 1577.0 L1588.0 1581.6 L1589.0 1586.4 L1590.0 1591.5 L1591.0 1596.8 L1592.0 1602.3 L1593.0 1607.9 L1594.0 1613.7 L1595.0 1619.6 L1596.0 1625.7 L1597.0 1631.8 L1598.0 1638.0 L1599.0 1644.2 L1600.0 1650.5 L1601.0 1656.8 L1602.0 1663.1 L1603.0 1669.3 L1604.0 1675.6 L1605.0 1681.8 L1606.0 1688.0 L1607.0 1694.0 L1608.0 1700.1 L1609.0 1706.0 L1610.0 1711.9 L1611.0 1717.6 L1612.0 1723.3 L1613.0 1728.8 L1614.0 1734.2 L1615.0 1739.5 L1616.0 1744.7 L1617.0 1749.7 L1618.0 1754.6 L1619.0 1759.3 L1620.0 1764.0 L1621.0 1768.4 L1622.0 1772.8 L1623.0 1776.9 L1624.0 1781.0 L1625.0 1784.9 L1626.0 1788.6 L1627.0 1792.2 L1628.0 1795.7 L1629.0 1799.0 L1630.0 1802.2 L1631.0 1805.3 L1632.0 1808.2 L1633.0 1811.0 L1634.0 1813.7 L1635.0 1816.2 L1636.0 1818.6 L1637.0 1821.0 L1638.0 1823.1 L1639.0 1825.2 L1640.0 1827.2 L1641.0 1829.1 L1642.0 1830.9 L1643.0 1832.6 L1644.0 1834.2 L1645.0 1835.7 L1646.0 1837.1 L1647.0 1838.5 L1648.0 1839.7 L1649.0 1841.0 L1650.0 1842.1 L1651.0 1843.2 L1652.0 1844.2 L1653.0 1845.1 L1654.0 1846.0 L1655.0 1846.9 L1656.0 1847.7 L1657.0 1848.4 L1658.0 1849.1 L1659.0 1849.8 L1660.0 1850.5 L1661.0 1851.0 L1662.0 1851.6 L1663.0 1852.1 L1664.0 1852.6 L1665.0 1853.1 L1666.0 1853.6 L1667.0 1854.0 L1668.0 1854.4 L1669.0 1854.8 L1670.0 1855.1 L1671.0 1855.5 L1672.0 1855.8 L1673.0 1856.1 L1674.0 1856.4 L1675.0 1856.7 L1676.0 1856.9 L1677.0 1857.2 L1678.0 1857.4 L1679.0 1857.7 L1680.0 1857.9 L1681.0 1858.1 L1682.0 1858.3 L1683.0 1858.5 L1684.0 1858.7 L1685.0 1858.9 L1686.0 1859.0 L1687.0 1859.2 L1688.0 1859.4 L1689.0 1859.5 L1690.0 1859.7 L1691.0 1859.8 L1692.0 1860.0 L1693.0 1860.1 L1694.0 1860.2 L1695.0 1860.4 L1696.0 1860.5 L1697.0 1860.6 L1698.0 1860.7 L1699.0 1860.8 L1700.0 1860.9 L1701.0 1861.0 L1702.0 1861.2 L1703.0 1861.3 L1704.0 1861.4 L1705.0 1861.4 L1706.0 1861.5 L1707.0 1861.6 L1708.0 1861.7 L1709.0 1861.8 L1710.0 1861.9 L1711.0 1862.0 L1712.0 1862.1 L1713.0 1862.1 L1714.0 1862.2 L1715.0 1862.3 L1716.0 1862.4 L1717.0 1862.4 L1718.0 1862.5 L1719.0 1862.6 L1720.0 1862.6 L1721.0 1862.7 L1722.0 1862.8 L1723.0 1862.8 L1724.0 1862.9 L1725.0 1863.0 L1726.0 1863.0 L1727.0 1863.1 L1728.0 1863.1 L1729.0 1863.2 L1730.0 1863.2 L1731.0 1863.3 L1732.0 1863.3 L1733.0 1863.4 L1734.0 1863.4 L1735.0 1863.5 L1736.0 1863.5 L1737.0 1863.6 L1738.0 1863.6 L1739.0 1863.7 L1740.0 1863.7 L1741.0 1863.7 L1742.0 1863.8 L1743.0 1863.8 L1744.0 1863.9 L1745.0 1863.9 L1746.0 1863.9 L1747.0 1864.0 L1748.0 1864.0 L1749.0 1864.0 L1750.0 1864.1 L1751.0 1864.1 L1752.0 1864.1 L1753.0 1864.2 L1754.0 1864.2 L1755.0 1864.2 L1756.0 1864.3 L1757.0 1864.3 L1758.0 1864.3 L1759.0 1864.3 L1760.0 1864.4 L1761.0 1864.4 L1762.0 1864.4 L1763.0 1864.4 L1764.0 1864.5 L1765.0 1864.5 L1766.0 1864.5 L1767.0 1864.5 L1768.0 1864.6 L1769.0 1864.6 L1770.0 1864.6 L1771.0 1864.6 L1772.0 1864.6 L1773.0 1864.7 L1774.0 1864.7 L1775.0 1864.7 L1776.0 1864.7 L1777.0 1864.7 L1778.0 1864.7 L1779.0 1864.8 L1780.0 1864.8 L1781.0 1864.8 L1782.0 1864.8 L1783.0 1864.8 L1784.0 1864.8 L1785.0 1864.9 L1786.0 1864.9 L1787.0 1864.9 L1788.0 1864.9 L1789.0 1864.9 L1790.0 1864.9 L1791.0 1864.9 L1792.0 1864.9 L1793.0 1865.0 L1794.0 1865.0 L1795.0 1865.0 L1796.0 1865.0 L1797.0 1865.0 L1798.0 1865.0 L1799.0 1865.0 L1800.0 1865.0 L1804.0 1865.1 L1808.0 1865.1 L1812.0 1865.1 L1816.0 1865.1 L1820.0 1865.2 L1824.0 1865.2 L1828.0 1865.2 L1832.0 1865.2 L1836.0 1865.2 L1840.0 1865.2 L1844.0 1865.2 L1848.0 1865.2 L1852.0 1865.2 L1856.0 1865.2 L1860.0 1865.2 L1864.0 1865.2 L1868.0 1865.2 L1872.0 1865.2 L1876.0 1865.1 L1880.0 1865.1 L1884.0 1865.1 L1888.0 1865.1 L1892.0 1865.1 L1896.0 1865.0 L1900.0 1865.0 L1904.0 1865.0 L1908.0 1865.0 L1912.0 1864.9 L1916.0 1864.9 L1920.0 1864.9 L1924.0 1864.9 L1928.0 1864.8 L1932.0 1864.8 L1936.0 1864.8 L1940.0 1864.7 L1944.0 1864.7 L1948.0 1864.7 L1952.0 1864.6 L1956.0 1864.6 L1960.0 1864.6 L1964.0 1864.5 L1968.0 1864.5 L1972.0 1864.5 L1976.0 1864.4 L1980.0 1864.4 L1984.0 1864.4 L1988.0 1864.3 L1992.0 1864.3 L1996.0 1864.2 L2000.0 1864.2 L2004.0 1864.2 L2008.0 1864.1 L2012.0 1864.1 L2016.0 1864.0 L2020.0 1864.0 L2024.0 1864.0 L2028.0 1863.9 L2032.0 1863.9 L2036.0 1863.8 L2040.0 1863.8 L2044.0 1863.7 L2048.0 1863.7 L2052.0 1863.6 L2056.0 1863.6 L2060.0 1863.6 L2064.0 1863.5 L2068.0 1863.5 L2072.0 1863.4 L2076.0 1863.4 L2080.0 1863.3 L2084.0 1863.3 L2088.0 1863.2 L2092.0 1863.2 L2096.0 1863.2 L2100.0 1863.1 L2104.0 1863.1 L2108.0 1863.0 L2112.0 1863.0 L2116.0 1862.9 L2120.0 1862.9 L2124.0 1862.8 L2128.0 1862.8 L2132.0 1862.7 L2136.0 1862.7 L2140.0 1862.6 L2144.0 1862.6 L2148.0 1862.5 L2152.0 1862.5 L2156.0 1862.4 L2160.0 1862.4 L2164.0 1862.3 L2168.0 1862.3 L2172.0 1862.3 L2176.0 1862.2 L2180.0 1862.2 L2184.0 1862.1 L2188.0 1862.1 L2192.0 1862.0 L2196.0 1862.0 L2200.0 1861.9 L2204.0 1861.9 L2208.0 1861.8 L2212.0 1861.8 L2216.0 1861.7 L2220.0 1861.7 L2224.0 1861.6 L2228.0 1861.6 L2232.0 1861.5 L2236.0 1861.5 L2240.0 1861.4 L2244.0 1861.4 L2248.0 1861.3 L2252.0 1861.3 L2256.0 1861.2 L2260.0 1861.2 L2264.0 1861.1 L2268.0 1861.1 L2272.0 1861.0 L2276.0 1861.0 L2280.0 1860.9 L2284.0 1860.9 L2288.0 1860.8 L2292.0 1860.8 L2296.0 1860.7 L2300.0 1860.7 L2304.0 1860.6 L2308.0 1860.6 L2312.0 1860.5 L2316.0 1860.4 L2320.0 1860.4 L2324.0 1860.3 L2328.0 1860.3 L2332.0 1860.2 L2336.0 1860.2 L2340.0 1860.1 L2344.0 1860.1 L2348.0 1860.0 L2352.0 1860.0 L2356.0 1859.9 L2360.0 1859.9 L2364.0 1859.8 L2368.0 1859.8 L2372.0 1859.7 L2376.0 1859.7 L2380.0 1859.6 L2384.0 1859.6 L2388.0 1859.5 L2390.0 1859.5" fill="none" stroke="#808000" stroke-width="6.6" stroke-linejoin="round" stroke-linecap="butt"/>
<rect x="1467.70" y="1943.00" width="7.00" height="16.00" fill="#000"/>
<rect x="1755.80" y="1943.00" width="7.00" height="16.00" fill="#000"/>
<rect x="2043.90" y="1943.00" width="7.00" height="16.00" fill="#000"/>
<rect x="2332.00" y="1943.00" width="7.00" height="16.00" fill="#000"/>
<rect x="1323.65" y="1951.50" width="7.00" height="7.50" fill="#000"/>
<rect x="1611.75" y="1951.50" width="7.00" height="7.50" fill="#000"/>
<rect x="1899.85" y="1951.50" width="7.00" height="7.50" fill="#000"/>
<rect x="2187.95" y="1951.50" width="7.00" height="7.50" fill="#000"/>
<text transform="translate(1355.29 1219.33) scale(0.9429 1)" font-size="87.24">(d)</text>
<text transform="translate(1751.82 1453.66) scale(0.8546 1)" font-size="45.10">C-O-C</text>
<text transform="translate(1467.01 1572.47) scale(0.8682 1)" font-size="44.50">C=O</text>
<text transform="translate(1737.11 1603.37) scale(0.8747 1)" font-size="44.20">C-O</text>
<line x1="1735.30" y1="1467.20" x2="1680.44" y2="1508.46" stroke="#000" stroke-width="5.4" stroke-linecap="round"/>
<polygon points="1663.10,1521.50 1682.47,1495.67 1687.13,1503.43 1693.28,1510.06" fill="#000"/>
<line x1="1534.60" y1="1572.30" x2="1609.97" y2="1620.08" stroke="#000" stroke-width="5.4" stroke-linecap="round"/>
<polygon points="1628.30,1631.70 1597.30,1622.70 1602.90,1615.60 1606.94,1607.50" fill="#000"/>
<line x1="1744.40" y1="1603.80" x2="1678.85" y2="1646.80" stroke="#000" stroke-width="5.4" stroke-linecap="round"/>
<polygon points="1660.70,1658.70 1681.69,1634.17 1685.84,1642.21 1691.56,1649.22" fill="#000"/>
<text transform="translate(1266.56 1588.26) rotate(-90) scale(1.0365 1)" font-size="52.65">Counts/s</text>
<text transform="translate(1433.98 2021.67) scale(0.9164 1)" font-size="54.09">530</text>
<text transform="translate(1722.04 2021.67) scale(0.9164 1)" font-size="54.09">535</text>
<text transform="translate(2010.18 2021.67) scale(0.9164 1)" font-size="54.09">540</text>
<text transform="translate(2298.24 2021.67) scale(0.9164 1)" font-size="54.09">545</text>
<text transform="translate(1631.49 2066.60) scale(0.8875 1)" font-size="54.83">Binding Energy (eV)</text>
</svg>
</body></html>
